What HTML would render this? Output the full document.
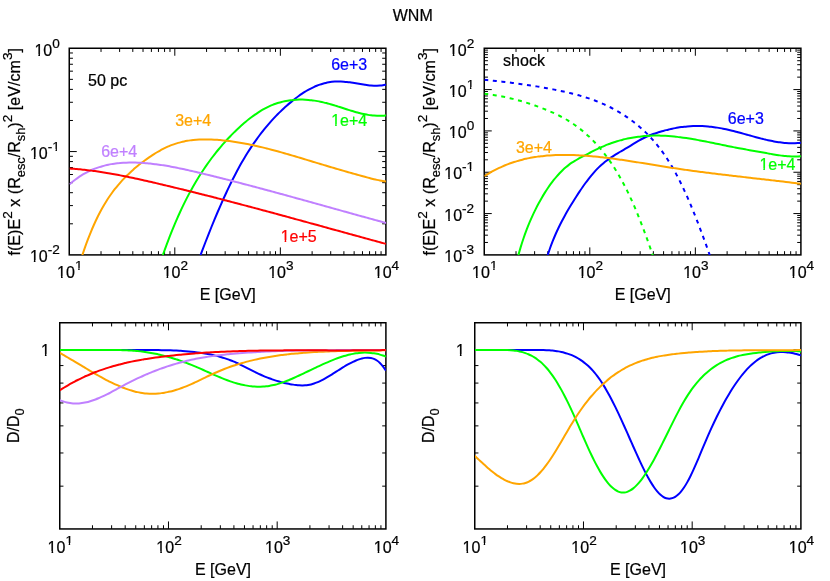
<!DOCTYPE html>
<html><head><meta charset="utf-8"><title>WNM</title>
<style>html,body{margin:0;padding:0;background:#fff;}svg{display:block;will-change:transform;transform:translateZ(0);}text{stroke-width:0.22px;}</style></head>
<body>
<svg width="830" height="581" viewBox="0 0 830 581" font-family='"Liberation Sans", sans-serif' font-size="16" fill="#000">
<rect width="830" height="581" fill="#fff"/>
<text x="412.75" y="21.4" text-anchor="middle" stroke="#000">WNM</text>
<clipPath id="ca"><rect x="69.50" y="48.25" width="316.55" height="206.75"/></clipPath>
<path d="M101.02,254.90 v-3.70 M101.02,48.25 v3.70 M119.61,254.90 v-3.70 M119.61,48.25 v3.70 M132.80,254.90 v-3.70 M132.80,48.25 v3.70 M143.03,254.90 v-3.70 M143.03,48.25 v3.70 M151.38,254.90 v-3.70 M151.38,48.25 v3.70 M158.45,254.90 v-3.70 M158.45,48.25 v3.70 M164.57,254.90 v-3.70 M164.57,48.25 v3.70 M169.97,254.90 v-3.70 M169.97,48.25 v3.70 M174.80,254.90 v-7.50 M174.80,48.25 v7.50 M206.57,254.90 v-3.70 M206.57,48.25 v3.70 M225.16,254.90 v-3.70 M225.16,48.25 v3.70 M238.35,254.90 v-3.70 M238.35,48.25 v3.70 M248.58,254.90 v-3.70 M248.58,48.25 v3.70 M256.93,254.90 v-3.70 M256.93,48.25 v3.70 M264.00,254.90 v-3.70 M264.00,48.25 v3.70 M270.12,254.90 v-3.70 M270.12,48.25 v3.70 M275.52,254.90 v-3.70 M275.52,48.25 v3.70 M280.35,254.90 v-7.50 M280.35,48.25 v7.50 M312.12,254.90 v-3.70 M312.12,48.25 v3.70 M330.71,254.90 v-3.70 M330.71,48.25 v3.70 M343.90,254.90 v-3.70 M343.90,48.25 v3.70 M354.13,254.90 v-3.70 M354.13,48.25 v3.70 M362.48,254.90 v-3.70 M362.48,48.25 v3.70 M369.55,254.90 v-3.70 M369.55,48.25 v3.70 M375.67,254.90 v-3.70 M375.67,48.25 v3.70 M381.07,254.90 v-3.70 M381.07,48.25 v3.70 M69.25,223.80 h3.70 M385.90,223.80 h-3.70 M69.25,205.60 h3.70 M385.90,205.60 h-3.70 M69.25,192.69 h3.70 M385.90,192.69 h-3.70 M69.25,182.68 h3.70 M385.90,182.68 h-3.70 M69.25,174.50 h3.70 M385.90,174.50 h-3.70 M69.25,167.58 h3.70 M385.90,167.58 h-3.70 M69.25,161.59 h3.70 M385.90,161.59 h-3.70 M69.25,156.30 h3.70 M385.90,156.30 h-3.70 M69.25,151.57 h7.50 M385.90,151.57 h-7.50 M69.25,120.47 h3.70 M385.90,120.47 h-3.70 M69.25,102.28 h3.70 M385.90,102.28 h-3.70 M69.25,89.37 h3.70 M385.90,89.37 h-3.70 M69.25,79.35 h3.70 M385.90,79.35 h-3.70 M69.25,71.17 h3.70 M385.90,71.17 h-3.70 M69.25,64.26 h3.70 M385.90,64.26 h-3.70 M69.25,58.26 h3.70 M385.90,58.26 h-3.70 M69.25,52.98 h3.70 M385.90,52.98 h-3.70" stroke="#000" stroke-width="1" fill="none"/>
<rect x="69.25" y="48.25" width="316.65" height="206.65" fill="none" stroke="#000" stroke-width="1.5"/>
<g clip-path="url(#ca)" fill="none" stroke-width="2.0" stroke-linejoin="round">
<path d="M199.40,258.21 C199.90,256.87 201.41,252.81 202.41,250.15 C203.41,247.49 204.42,244.86 205.42,242.26 C206.42,239.66 207.43,237.08 208.43,234.54 C209.43,232.00 210.44,229.48 211.44,227.00 C212.44,224.52 213.45,222.07 214.45,219.65 C215.45,217.23 216.45,214.84 217.46,212.49 C218.46,210.13 219.46,207.81 220.47,205.53 C221.47,203.24 222.47,200.99 223.48,198.77 C224.48,196.55 225.48,194.37 226.49,192.22 C227.49,190.08 228.49,187.96 229.50,185.89 C230.50,183.82 231.50,181.78 232.51,179.79 C233.51,177.79 234.51,175.83 235.52,173.91 C236.52,171.99 237.52,170.11 238.53,168.27 C239.53,166.43 240.53,164.63 241.54,162.87 C242.54,161.11 243.54,159.40 244.55,157.72 C245.55,156.04 246.55,154.40 247.55,152.79 C248.56,151.19 249.56,149.62 250.56,148.09 C251.57,146.56 252.57,145.07 253.57,143.61 C254.58,142.15 255.58,140.72 256.58,139.33 C257.59,137.93 258.59,136.57 259.59,135.24 C260.60,133.91 261.60,132.61 262.60,131.34 C263.61,130.07 264.61,128.83 265.61,127.62 C266.62,126.41 267.62,125.23 268.62,124.07 C269.63,122.91 270.63,121.78 271.63,120.67 C272.64,119.57 273.64,118.49 274.64,117.43 C275.65,116.37 276.65,115.34 277.65,114.32 C278.65,113.31 279.66,112.32 280.66,111.35 C281.66,110.38 282.67,109.43 283.67,108.50 C284.67,107.57 285.68,106.65 286.68,105.76 C287.68,104.86 288.69,103.99 289.69,103.13 C290.69,102.28 291.70,101.45 292.70,100.63 C293.70,99.82 294.71,99.03 295.71,98.26 C296.71,97.49 297.72,96.74 298.72,96.02 C299.72,95.30 300.73,94.60 301.73,93.92 C302.73,93.25 303.74,92.60 304.74,91.97 C305.74,91.35 306.75,90.75 307.75,90.18 C308.75,89.60 309.75,89.06 310.76,88.54 C311.76,88.02 312.76,87.53 313.77,87.07 C314.77,86.61 315.77,86.17 316.78,85.77 C317.78,85.36 318.78,84.99 319.79,84.64 C320.79,84.29 321.79,83.97 322.80,83.68 C323.80,83.39 324.80,83.13 325.81,82.90 C326.81,82.66 327.81,82.46 328.82,82.28 C329.82,82.10 330.82,81.95 331.83,81.82 C332.83,81.70 333.83,81.60 334.84,81.53 C335.84,81.46 336.84,81.42 337.85,81.41 C338.85,81.39 339.85,81.41 340.85,81.44 C341.86,81.48 342.86,81.55 343.86,81.63 C344.87,81.71 345.87,81.81 346.87,81.93 C347.88,82.05 348.88,82.18 349.88,82.33 C350.89,82.47 351.89,82.63 352.89,82.79 C353.90,82.96 354.90,83.13 355.90,83.30 C356.91,83.47 357.91,83.65 358.91,83.82 C359.92,83.99 360.92,84.16 361.92,84.32 C362.93,84.49 363.93,84.65 364.93,84.79 C365.94,84.93 366.94,85.07 367.94,85.19 C368.95,85.30 369.95,85.41 370.95,85.49 C371.95,85.57 372.96,85.64 373.96,85.67 C374.96,85.71 375.97,85.73 376.97,85.71 C377.97,85.69 378.98,85.65 379.98,85.57 C380.98,85.49 381.99,85.38 382.99,85.23 C383.99,85.07 385.50,84.75 386.00,84.66" stroke="#0000ff"/>
<path d="M162.20,256.99 C162.70,255.59 164.19,251.31 165.18,248.56 C166.18,245.82 167.17,243.14 168.17,240.53 C169.16,237.91 170.16,235.36 171.15,232.87 C172.15,230.37 173.14,227.94 174.14,225.56 C175.13,223.18 176.13,220.87 177.12,218.60 C178.11,216.34 179.11,214.13 180.10,211.97 C181.10,209.81 182.09,207.71 183.09,205.65 C184.08,203.60 185.08,201.60 186.07,199.64 C187.07,197.68 188.06,195.77 189.06,193.90 C190.05,192.04 191.05,190.22 192.04,188.44 C193.03,186.66 194.03,184.93 195.02,183.23 C196.02,181.54 197.01,179.88 198.01,178.27 C199.00,176.65 200.00,175.07 200.99,173.52 C201.99,171.98 202.98,170.47 203.98,168.99 C204.97,167.51 205.97,166.07 206.96,164.65 C207.95,163.24 208.95,161.85 209.94,160.50 C210.94,159.14 211.93,157.81 212.93,156.51 C213.92,155.20 214.92,153.93 215.91,152.67 C216.91,151.42 217.90,150.20 218.90,148.99 C219.89,147.79 220.89,146.62 221.88,145.46 C222.87,144.31 223.87,143.18 224.86,142.07 C225.86,140.96 226.85,139.87 227.85,138.81 C228.84,137.74 229.84,136.70 230.83,135.67 C231.83,134.65 232.82,133.64 233.82,132.66 C234.81,131.67 235.81,130.71 236.80,129.76 C237.79,128.81 238.79,127.88 239.78,126.97 C240.78,126.06 241.77,125.17 242.77,124.29 C243.76,123.42 244.76,122.57 245.75,121.74 C246.75,120.91 247.74,120.10 248.74,119.31 C249.73,118.52 250.73,117.76 251.72,117.01 C252.71,116.27 253.71,115.54 254.70,114.85 C255.70,114.15 256.69,113.47 257.69,112.82 C258.68,112.17 259.68,111.54 260.67,110.94 C261.67,110.33 262.66,109.75 263.66,109.20 C264.65,108.65 265.65,108.12 266.64,107.62 C267.63,107.12 268.63,106.64 269.62,106.19 C270.62,105.74 271.61,105.31 272.61,104.91 C273.60,104.51 274.60,104.14 275.59,103.79 C276.59,103.43 277.58,103.11 278.58,102.80 C279.57,102.49 280.57,102.21 281.56,101.95 C282.55,101.69 283.55,101.46 284.54,101.24 C285.54,101.03 286.53,100.83 287.53,100.66 C288.52,100.49 289.52,100.34 290.51,100.21 C291.51,100.08 292.50,99.97 293.50,99.88 C294.49,99.79 295.49,99.71 296.48,99.66 C297.47,99.61 298.47,99.58 299.46,99.56 C300.46,99.55 301.45,99.55 302.45,99.57 C303.44,99.59 304.44,99.63 305.43,99.69 C306.43,99.74 307.42,99.81 308.42,99.90 C309.41,99.99 310.41,100.09 311.40,100.21 C312.39,100.33 313.39,100.47 314.38,100.62 C315.38,100.77 316.37,100.93 317.37,101.11 C318.36,101.29 319.36,101.48 320.35,101.69 C321.35,101.89 322.34,102.11 323.34,102.35 C324.33,102.58 325.33,102.82 326.32,103.08 C327.31,103.33 328.31,103.60 329.30,103.88 C330.30,104.16 331.29,104.45 332.29,104.74 C333.28,105.04 334.28,105.34 335.27,105.65 C336.27,105.96 337.26,106.27 338.26,106.59 C339.25,106.91 340.25,107.23 341.24,107.55 C342.23,107.87 343.23,108.19 344.22,108.51 C345.22,108.83 346.21,109.15 347.21,109.47 C348.20,109.79 349.20,110.10 350.19,110.41 C351.19,110.71 352.18,111.02 353.18,111.31 C354.17,111.60 355.17,111.89 356.16,112.17 C357.15,112.44 358.15,112.71 359.14,112.97 C360.14,113.22 361.13,113.47 362.13,113.69 C363.12,113.92 364.12,114.14 365.11,114.33 C366.11,114.53 367.10,114.71 368.10,114.87 C369.09,115.04 370.09,115.18 371.08,115.30 C372.07,115.42 373.07,115.53 374.06,115.61 C375.06,115.68 376.05,115.74 377.05,115.77 C378.04,115.80 379.04,115.81 380.03,115.79 C381.03,115.76 382.02,115.72 383.02,115.64 C384.01,115.56 385.50,115.36 386.00,115.31" stroke="#00ff00"/>
<path d="M81.80,256.75 C82.30,255.27 83.81,250.72 84.81,247.87 C85.81,245.02 86.82,242.28 87.82,239.65 C88.83,237.01 89.83,234.48 90.83,232.04 C91.84,229.60 92.84,227.26 93.84,225.01 C94.85,222.75 95.85,220.60 96.85,218.52 C97.86,216.44 98.86,214.45 99.87,212.54 C100.87,210.63 101.87,208.79 102.88,207.03 C103.88,205.27 104.88,203.58 105.89,201.96 C106.89,200.33 107.89,198.78 108.90,197.28 C109.90,195.78 110.91,194.35 111.91,192.97 C112.91,191.58 113.92,190.26 114.92,188.98 C115.92,187.70 116.93,186.47 117.93,185.28 C118.93,184.09 119.94,182.95 120.94,181.83 C121.95,180.72 122.95,179.65 123.95,178.61 C124.96,177.56 125.96,176.55 126.96,175.56 C127.97,174.57 128.97,173.61 129.97,172.67 C130.98,171.73 131.98,170.82 132.99,169.93 C133.99,169.03 134.99,168.17 136.00,167.32 C137.00,166.47 138.00,165.64 139.01,164.84 C140.01,164.03 141.01,163.24 142.02,162.48 C143.02,161.71 144.03,160.96 145.03,160.23 C146.03,159.50 147.04,158.79 148.04,158.09 C149.04,157.39 150.05,156.71 151.05,156.05 C152.05,155.38 153.06,154.73 154.06,154.10 C155.07,153.47 156.07,152.85 157.07,152.25 C158.08,151.66 159.08,151.08 160.08,150.52 C161.09,149.96 162.09,149.43 163.09,148.91 C164.10,148.39 165.10,147.90 166.10,147.43 C167.11,146.96 168.11,146.51 169.12,146.09 C170.12,145.67 171.12,145.27 172.13,144.89 C173.13,144.52 174.13,144.16 175.14,143.83 C176.14,143.50 177.14,143.19 178.15,142.90 C179.15,142.61 180.16,142.35 181.16,142.10 C182.16,141.85 183.17,141.62 184.17,141.41 C185.17,141.20 186.18,141.01 187.18,140.84 C188.18,140.66 189.19,140.51 190.19,140.37 C191.20,140.23 192.20,140.11 193.20,140.00 C194.21,139.89 195.21,139.80 196.21,139.73 C197.22,139.65 198.22,139.59 199.22,139.54 C200.23,139.49 201.23,139.45 202.24,139.43 C203.24,139.40 204.24,139.39 205.25,139.39 C206.25,139.39 207.25,139.41 208.26,139.43 C209.26,139.45 210.26,139.48 211.27,139.52 C212.27,139.56 213.28,139.61 214.28,139.67 C215.28,139.73 216.29,139.80 217.29,139.87 C218.29,139.95 219.30,140.03 220.30,140.12 C221.30,140.20 222.31,140.30 223.31,140.40 C224.32,140.51 225.32,140.62 226.32,140.73 C227.33,140.85 228.33,140.97 229.33,141.10 C230.34,141.23 231.34,141.37 232.34,141.51 C233.35,141.65 234.35,141.80 235.36,141.95 C236.36,142.11 237.36,142.27 238.37,142.43 C239.37,142.60 240.37,142.77 241.38,142.95 C242.38,143.13 243.38,143.31 244.39,143.50 C245.39,143.68 246.40,143.88 247.40,144.08 C248.40,144.27 249.41,144.48 250.41,144.69 C251.41,144.89 252.42,145.11 253.42,145.32 C254.42,145.54 255.43,145.76 256.43,145.99 C257.44,146.22 258.44,146.45 259.44,146.68 C260.45,146.92 261.45,147.16 262.45,147.40 C263.46,147.64 264.46,147.89 265.46,148.14 C266.47,148.39 267.47,148.64 268.48,148.90 C269.48,149.16 270.48,149.42 271.49,149.68 C272.49,149.94 273.49,150.21 274.50,150.48 C275.50,150.75 276.50,151.02 277.51,151.30 C278.51,151.57 279.52,151.85 280.52,152.13 C281.52,152.41 282.53,152.69 283.53,152.98 C284.53,153.26 285.54,153.55 286.54,153.84 C287.54,154.13 288.55,154.42 289.55,154.71 C290.56,155.00 291.56,155.30 292.56,155.59 C293.57,155.89 294.57,156.18 295.57,156.48 C296.58,156.78 297.58,157.08 298.58,157.38 C299.59,157.68 300.59,157.98 301.60,158.29 C302.60,158.59 303.60,158.89 304.61,159.19 C305.61,159.50 306.61,159.80 307.62,160.11 C308.62,160.41 309.62,160.72 310.63,161.02 C311.63,161.32 312.63,161.63 313.64,161.93 C314.64,162.24 315.65,162.54 316.65,162.85 C317.65,163.15 318.66,163.45 319.66,163.76 C320.66,164.06 321.67,164.36 322.67,164.66 C323.67,164.96 324.68,165.26 325.68,165.56 C326.69,165.86 327.69,166.16 328.69,166.46 C329.70,166.76 330.70,167.05 331.70,167.35 C332.71,167.65 333.71,167.94 334.71,168.24 C335.72,168.53 336.72,168.83 337.73,169.12 C338.73,169.41 339.73,169.71 340.74,170.00 C341.74,170.29 342.74,170.58 343.75,170.87 C344.75,171.16 345.75,171.45 346.76,171.74 C347.76,172.03 348.77,172.31 349.77,172.60 C350.77,172.89 351.78,173.17 352.78,173.46 C353.78,173.74 354.79,174.03 355.79,174.31 C356.79,174.59 357.80,174.87 358.80,175.15 C359.81,175.43 360.81,175.71 361.81,175.99 C362.82,176.27 363.82,176.55 364.82,176.83 C365.83,177.10 366.83,177.37 367.83,177.64 C368.84,177.91 369.84,178.17 370.85,178.43 C371.85,178.68 372.85,178.93 373.86,179.17 C374.86,179.41 375.86,179.64 376.87,179.86 C377.87,180.08 378.87,180.29 379.88,180.48 C380.88,180.68 381.89,180.86 382.89,181.02 C383.89,181.19 385.40,181.40 385.90,181.47" stroke="#ffa500"/>
<path d="M69.50,184.30 C70.00,183.89 71.49,182.61 72.49,181.82 C73.48,181.02 74.48,180.26 75.47,179.52 C76.47,178.79 77.46,178.08 78.46,177.41 C79.45,176.73 80.45,176.09 81.44,175.47 C82.44,174.85 83.43,174.26 84.43,173.69 C85.42,173.13 86.42,172.59 87.42,172.08 C88.41,171.56 89.41,171.08 90.40,170.61 C91.40,170.15 92.39,169.71 93.39,169.30 C94.38,168.88 95.38,168.49 96.37,168.12 C97.37,167.75 98.36,167.41 99.36,167.08 C100.35,166.76 101.35,166.45 102.34,166.17 C103.34,165.88 104.33,165.62 105.33,165.37 C106.33,165.13 107.32,164.90 108.32,164.69 C109.31,164.48 110.31,164.29 111.30,164.12 C112.30,163.94 113.29,163.79 114.29,163.65 C115.28,163.50 116.28,163.38 117.27,163.27 C118.27,163.16 119.26,163.06 120.26,162.98 C121.25,162.89 122.25,162.82 123.25,162.76 C124.24,162.71 125.24,162.66 126.23,162.63 C127.23,162.59 128.22,162.57 129.22,162.56 C130.21,162.55 131.21,162.54 132.20,162.55 C133.20,162.56 134.19,162.57 135.19,162.60 C136.18,162.62 137.18,162.65 138.17,162.70 C139.17,162.74 140.17,162.79 141.16,162.85 C142.16,162.90 143.15,162.97 144.15,163.04 C145.14,163.12 146.14,163.20 147.13,163.29 C148.13,163.38 149.12,163.47 150.12,163.58 C151.11,163.68 152.11,163.79 153.10,163.91 C154.10,164.02 155.09,164.15 156.09,164.27 C157.08,164.40 158.08,164.54 159.08,164.68 C160.07,164.82 161.07,164.97 162.06,165.13 C163.06,165.28 164.05,165.44 165.05,165.60 C166.04,165.77 167.04,165.94 168.03,166.11 C169.03,166.28 170.02,166.46 171.02,166.65 C172.01,166.83 173.01,167.02 174.00,167.21 C175.00,167.40 176.00,167.60 176.99,167.80 C177.99,168.00 178.98,168.21 179.98,168.41 C180.97,168.62 181.97,168.83 182.96,169.05 C183.96,169.26 184.95,169.48 185.95,169.70 C186.94,169.92 187.94,170.14 188.93,170.37 C189.93,170.59 190.92,170.82 191.92,171.05 C192.92,171.28 193.91,171.51 194.91,171.74 C195.90,171.98 196.90,172.21 197.89,172.45 C198.89,172.69 199.88,172.92 200.88,173.16 C201.87,173.40 202.87,173.64 203.86,173.88 C204.86,174.12 205.85,174.36 206.85,174.61 C207.84,174.85 208.84,175.09 209.83,175.34 C210.83,175.58 211.83,175.83 212.82,176.07 C213.82,176.32 214.81,176.56 215.81,176.81 C216.80,177.06 217.80,177.31 218.79,177.56 C219.79,177.81 220.78,178.06 221.78,178.31 C222.77,178.56 223.77,178.81 224.76,179.06 C225.76,179.31 226.75,179.56 227.75,179.82 C228.75,180.07 229.74,180.32 230.74,180.58 C231.73,180.83 232.73,181.09 233.72,181.35 C234.72,181.60 235.71,181.86 236.71,182.12 C237.70,182.37 238.70,182.63 239.69,182.89 C240.69,183.15 241.68,183.41 242.68,183.67 C243.67,183.93 244.67,184.19 245.67,184.45 C246.66,184.71 247.66,184.97 248.65,185.24 C249.65,185.50 250.64,185.76 251.64,186.02 C252.63,186.29 253.63,186.55 254.62,186.82 C255.62,187.08 256.61,187.35 257.61,187.61 C258.60,187.88 259.60,188.14 260.59,188.41 C261.59,188.68 262.58,188.94 263.58,189.21 C264.58,189.48 265.57,189.75 266.57,190.01 C267.56,190.28 268.56,190.55 269.55,190.82 C270.55,191.09 271.54,191.36 272.54,191.63 C273.53,191.90 274.53,192.17 275.52,192.44 C276.52,192.71 277.51,192.98 278.51,193.25 C279.50,193.52 280.50,193.80 281.50,194.07 C282.49,194.34 283.49,194.61 284.48,194.89 C285.48,195.16 286.47,195.43 287.47,195.70 C288.46,195.98 289.46,196.25 290.45,196.53 C291.45,196.80 292.44,197.07 293.44,197.35 C294.43,197.62 295.43,197.90 296.42,198.17 C297.42,198.45 298.42,198.72 299.41,199.00 C300.41,199.27 301.40,199.55 302.40,199.82 C303.39,200.10 304.39,200.38 305.38,200.65 C306.38,200.93 307.37,201.20 308.37,201.48 C309.36,201.76 310.36,202.03 311.35,202.31 C312.35,202.59 313.34,202.86 314.34,203.14 C315.33,203.42 316.33,203.69 317.33,203.97 C318.32,204.25 319.32,204.52 320.31,204.80 C321.31,205.08 322.30,205.36 323.30,205.63 C324.29,205.91 325.29,206.19 326.28,206.46 C327.28,206.74 328.27,207.02 329.27,207.30 C330.26,207.57 331.26,207.85 332.25,208.13 C333.25,208.41 334.25,208.68 335.24,208.96 C336.24,209.24 337.23,209.51 338.23,209.79 C339.22,210.07 340.22,210.35 341.21,210.62 C342.21,210.90 343.20,211.18 344.20,211.45 C345.19,211.73 346.19,212.01 347.18,212.28 C348.18,212.56 349.17,212.84 350.17,213.11 C351.17,213.39 352.16,213.66 353.16,213.94 C354.15,214.22 355.15,214.49 356.14,214.77 C357.14,215.04 358.13,215.32 359.13,215.59 C360.12,215.87 361.12,216.14 362.11,216.42 C363.11,216.69 364.10,216.97 365.10,217.24 C366.09,217.51 367.09,217.79 368.08,218.06 C369.08,218.33 370.08,218.61 371.07,218.88 C372.07,219.15 373.06,219.43 374.06,219.70 C375.05,219.97 376.05,220.24 377.04,220.51 C378.04,220.79 379.03,221.06 380.03,221.33 C381.02,221.60 382.02,221.87 383.01,222.14 C384.01,222.41 385.50,222.81 386.00,222.95" stroke="#c080ff"/>
<path d="M69.50,168.55 C70.00,168.58 71.49,168.67 72.49,168.74 C73.48,168.81 74.48,168.89 75.47,168.97 C76.47,169.05 77.46,169.13 78.46,169.22 C79.45,169.31 80.45,169.40 81.44,169.50 C82.44,169.60 83.43,169.70 84.43,169.81 C85.42,169.92 86.42,170.03 87.42,170.15 C88.41,170.26 89.41,170.39 90.40,170.51 C91.40,170.64 92.39,170.76 93.39,170.90 C94.38,171.03 95.38,171.17 96.37,171.31 C97.37,171.45 98.36,171.60 99.36,171.74 C100.35,171.89 101.35,172.05 102.34,172.20 C103.34,172.36 104.33,172.52 105.33,172.68 C106.33,172.84 107.32,173.01 108.32,173.18 C109.31,173.35 110.31,173.52 111.30,173.70 C112.30,173.87 113.29,174.05 114.29,174.23 C115.28,174.42 116.28,174.60 117.27,174.79 C118.27,174.98 119.26,175.17 120.26,175.36 C121.25,175.55 122.25,175.75 123.25,175.95 C124.24,176.14 125.24,176.34 126.23,176.55 C127.23,176.75 128.22,176.95 129.22,177.16 C130.21,177.37 131.21,177.58 132.20,177.79 C133.20,178.00 134.19,178.21 135.19,178.43 C136.18,178.64 137.18,178.86 138.17,179.08 C139.17,179.30 140.17,179.52 141.16,179.74 C142.16,179.96 143.15,180.18 144.15,180.41 C145.14,180.63 146.14,180.86 147.13,181.08 C148.13,181.31 149.12,181.54 150.12,181.77 C151.11,181.99 152.11,182.22 153.10,182.46 C154.10,182.69 155.09,182.92 156.09,183.15 C157.08,183.38 158.08,183.62 159.08,183.85 C160.07,184.08 161.07,184.32 162.06,184.55 C163.06,184.79 164.05,185.02 165.05,185.26 C166.04,185.50 167.04,185.73 168.03,185.97 C169.03,186.21 170.02,186.45 171.02,186.69 C172.01,186.93 173.01,187.17 174.00,187.41 C175.00,187.65 176.00,187.89 176.99,188.13 C177.99,188.37 178.98,188.61 179.98,188.86 C180.97,189.10 181.97,189.34 182.96,189.59 C183.96,189.83 184.95,190.08 185.95,190.32 C186.94,190.57 187.94,190.81 188.93,191.06 C189.93,191.31 190.92,191.55 191.92,191.80 C192.92,192.05 193.91,192.30 194.91,192.54 C195.90,192.79 196.90,193.04 197.89,193.29 C198.89,193.54 199.88,193.79 200.88,194.04 C201.87,194.29 202.87,194.55 203.86,194.80 C204.86,195.05 205.85,195.30 206.85,195.55 C207.84,195.81 208.84,196.06 209.83,196.31 C210.83,196.57 211.83,196.82 212.82,197.08 C213.82,197.33 214.81,197.59 215.81,197.84 C216.80,198.10 217.80,198.36 218.79,198.61 C219.79,198.87 220.78,199.13 221.78,199.38 C222.77,199.64 223.77,199.90 224.76,200.16 C225.76,200.42 226.75,200.67 227.75,200.93 C228.75,201.19 229.74,201.45 230.74,201.71 C231.73,201.97 232.73,202.23 233.72,202.49 C234.72,202.76 235.71,203.02 236.71,203.28 C237.70,203.54 238.70,203.80 239.69,204.07 C240.69,204.33 241.68,204.59 242.68,204.85 C243.67,205.12 244.67,205.38 245.67,205.64 C246.66,205.91 247.66,206.17 248.65,206.44 C249.65,206.70 250.64,206.97 251.64,207.23 C252.63,207.50 253.63,207.76 254.62,208.03 C255.62,208.29 256.61,208.56 257.61,208.83 C258.60,209.09 259.60,209.36 260.59,209.63 C261.59,209.89 262.58,210.16 263.58,210.43 C264.58,210.70 265.57,210.96 266.57,211.23 C267.56,211.50 268.56,211.77 269.55,212.04 C270.55,212.31 271.54,212.58 272.54,212.84 C273.53,213.11 274.53,213.38 275.52,213.65 C276.52,213.92 277.51,214.19 278.51,214.46 C279.50,214.73 280.50,215.00 281.50,215.27 C282.49,215.54 283.49,215.81 284.48,216.08 C285.48,216.36 286.47,216.63 287.47,216.90 C288.46,217.17 289.46,217.44 290.45,217.71 C291.45,217.98 292.44,218.26 293.44,218.53 C294.43,218.80 295.43,219.07 296.42,219.34 C297.42,219.62 298.42,219.89 299.41,220.16 C300.41,220.43 301.40,220.71 302.40,220.98 C303.39,221.25 304.39,221.52 305.38,221.80 C306.38,222.07 307.37,222.34 308.37,222.62 C309.36,222.89 310.36,223.16 311.35,223.44 C312.35,223.71 313.34,223.98 314.34,224.26 C315.33,224.53 316.33,224.80 317.33,225.08 C318.32,225.35 319.32,225.62 320.31,225.90 C321.31,226.17 322.30,226.45 323.30,226.72 C324.29,226.99 325.29,227.27 326.28,227.54 C327.28,227.81 328.27,228.09 329.27,228.36 C330.26,228.64 331.26,228.91 332.25,229.18 C333.25,229.46 334.25,229.73 335.24,230.01 C336.24,230.28 337.23,230.55 338.23,230.83 C339.22,231.10 340.22,231.37 341.21,231.65 C342.21,231.92 343.20,232.20 344.20,232.47 C345.19,232.74 346.19,233.02 347.18,233.29 C348.18,233.56 349.17,233.84 350.17,234.11 C351.17,234.39 352.16,234.66 353.16,234.93 C354.15,235.21 355.15,235.48 356.14,235.75 C357.14,236.02 358.13,236.30 359.13,236.57 C360.12,236.84 361.12,237.12 362.11,237.39 C363.11,237.66 364.10,237.93 365.10,238.21 C366.09,238.48 367.09,238.75 368.08,239.02 C369.08,239.30 370.08,239.57 371.07,239.84 C372.07,240.11 373.06,240.38 374.06,240.66 C375.05,240.93 376.05,241.20 377.04,241.47 C378.04,241.74 379.03,242.01 380.03,242.28 C381.02,242.55 382.02,242.82 383.01,243.09 C384.01,243.36 385.50,243.77 386.00,243.91" stroke="#ff0000"/>
</g>
<text x="69.80" y="278.00" text-anchor="middle" stroke="#000">10<tspan dy="-8" font-size="13.6">1</tspan></text>
<text x="175.35" y="278.00" text-anchor="middle" stroke="#000">10<tspan dy="-8" font-size="13.6">2</tspan></text>
<text x="280.90" y="278.00" text-anchor="middle" stroke="#000">10<tspan dy="-8" font-size="13.6">3</tspan></text>
<text x="386.45" y="278.00" text-anchor="middle" stroke="#000">10<tspan dy="-8" font-size="13.6">4</tspan></text>
<text x="227.77" y="300.00" text-anchor="middle" stroke="#000">E [GeV]</text>
<text x="59.80" y="55.60" text-anchor="end" stroke="#000">10<tspan dy="-8" font-size="13.6">0</tspan></text>
<text x="59.80" y="158.92" text-anchor="end" stroke="#000">10<tspan dy="-8" font-size="13.6">-1</tspan></text>
<text x="59.80" y="262.25" text-anchor="end" stroke="#000">10<tspan dy="-8" font-size="13.6">-2</tspan></text>
<text transform="translate(20,151.75) rotate(-90)" text-anchor="middle" font-size="16.12" stroke="#000">f(E)E<tspan dy="-8" font-size="13.6">2</tspan><tspan dy="8"> x (R</tspan><tspan dy="4.8" font-size="12.8">esc</tspan><tspan dy="-4.8">/R</tspan><tspan dy="4.8" font-size="12.8">sh</tspan><tspan dy="-4.8">)</tspan><tspan dy="-8" font-size="13.6">2</tspan><tspan dy="8"> [eV/cm</tspan><tspan dy="-8" font-size="13.6">3</tspan><tspan dy="8">]</tspan></text>
<text x="88" y="86" stroke="#000">50 pc</text>
<text x="331.2" y="70" fill="#0000ff" stroke="#0000ff">6e+3</text>
<text x="331.2" y="126" fill="#00ff00" stroke="#00ff00">1e+4</text>
<text x="175.2" y="126" fill="#ffa500" stroke="#ffa500">3e+4</text>
<text x="101.2" y="157" fill="#c080ff" stroke="#c080ff">6e+4</text>
<text x="280.7" y="242" fill="#ff0000" stroke="#ff0000">1e+5</text>
<clipPath id="cb"><rect x="484.50" y="48.25" width="316.55" height="206.75"/></clipPath>
<path d="M516.02,254.90 v-3.70 M516.02,48.25 v3.70 M534.61,254.90 v-3.70 M534.61,48.25 v3.70 M547.80,254.90 v-3.70 M547.80,48.25 v3.70 M558.03,254.90 v-3.70 M558.03,48.25 v3.70 M566.38,254.90 v-3.70 M566.38,48.25 v3.70 M573.45,254.90 v-3.70 M573.45,48.25 v3.70 M579.57,254.90 v-3.70 M579.57,48.25 v3.70 M584.97,254.90 v-3.70 M584.97,48.25 v3.70 M589.80,254.90 v-7.50 M589.80,48.25 v7.50 M621.57,254.90 v-3.70 M621.57,48.25 v3.70 M640.16,254.90 v-3.70 M640.16,48.25 v3.70 M653.35,254.90 v-3.70 M653.35,48.25 v3.70 M663.58,254.90 v-3.70 M663.58,48.25 v3.70 M671.93,254.90 v-3.70 M671.93,48.25 v3.70 M679.00,254.90 v-3.70 M679.00,48.25 v3.70 M685.12,254.90 v-3.70 M685.12,48.25 v3.70 M690.52,254.90 v-3.70 M690.52,48.25 v3.70 M695.35,254.90 v-7.50 M695.35,48.25 v7.50 M727.12,254.90 v-3.70 M727.12,48.25 v3.70 M745.71,254.90 v-3.70 M745.71,48.25 v3.70 M758.90,254.90 v-3.70 M758.90,48.25 v3.70 M769.13,254.90 v-3.70 M769.13,48.25 v3.70 M777.48,254.90 v-3.70 M777.48,48.25 v3.70 M784.55,254.90 v-3.70 M784.55,48.25 v3.70 M790.67,254.90 v-3.70 M790.67,48.25 v3.70 M796.07,254.90 v-3.70 M796.07,48.25 v3.70 M484.25,242.46 h3.70 M800.90,242.46 h-3.70 M484.25,235.18 h3.70 M800.90,235.18 h-3.70 M484.25,230.02 h3.70 M800.90,230.02 h-3.70 M484.25,226.01 h3.70 M800.90,226.01 h-3.70 M484.25,222.74 h3.70 M800.90,222.74 h-3.70 M484.25,219.97 h3.70 M800.90,219.97 h-3.70 M484.25,217.58 h3.70 M800.90,217.58 h-3.70 M484.25,215.46 h3.70 M800.90,215.46 h-3.70 M484.25,213.57 h7.50 M800.90,213.57 h-7.50 M484.25,201.13 h3.70 M800.90,201.13 h-3.70 M484.25,193.85 h3.70 M800.90,193.85 h-3.70 M484.25,188.69 h3.70 M800.90,188.69 h-3.70 M484.25,184.68 h3.70 M800.90,184.68 h-3.70 M484.25,181.41 h3.70 M800.90,181.41 h-3.70 M484.25,178.64 h3.70 M800.90,178.64 h-3.70 M484.25,176.25 h3.70 M800.90,176.25 h-3.70 M484.25,174.13 h3.70 M800.90,174.13 h-3.70 M484.25,172.24 h7.50 M800.90,172.24 h-7.50 M484.25,159.80 h3.70 M800.90,159.80 h-3.70 M484.25,152.52 h3.70 M800.90,152.52 h-3.70 M484.25,147.36 h3.70 M800.90,147.36 h-3.70 M484.25,143.35 h3.70 M800.90,143.35 h-3.70 M484.25,140.08 h3.70 M800.90,140.08 h-3.70 M484.25,137.31 h3.70 M800.90,137.31 h-3.70 M484.25,134.92 h3.70 M800.90,134.92 h-3.70 M484.25,132.80 h3.70 M800.90,132.80 h-3.70 M484.25,130.91 h7.50 M800.90,130.91 h-7.50 M484.25,118.47 h3.70 M800.90,118.47 h-3.70 M484.25,111.19 h3.70 M800.90,111.19 h-3.70 M484.25,106.03 h3.70 M800.90,106.03 h-3.70 M484.25,102.02 h3.70 M800.90,102.02 h-3.70 M484.25,98.75 h3.70 M800.90,98.75 h-3.70 M484.25,95.98 h3.70 M800.90,95.98 h-3.70 M484.25,93.59 h3.70 M800.90,93.59 h-3.70 M484.25,91.47 h3.70 M800.90,91.47 h-3.70 M484.25,89.58 h7.50 M800.90,89.58 h-7.50 M484.25,77.14 h3.70 M800.90,77.14 h-3.70 M484.25,69.86 h3.70 M800.90,69.86 h-3.70 M484.25,64.70 h3.70 M800.90,64.70 h-3.70 M484.25,60.69 h3.70 M800.90,60.69 h-3.70 M484.25,57.42 h3.70 M800.90,57.42 h-3.70 M484.25,54.65 h3.70 M800.90,54.65 h-3.70 M484.25,52.26 h3.70 M800.90,52.26 h-3.70 M484.25,50.14 h3.70 M800.90,50.14 h-3.70" stroke="#000" stroke-width="1" fill="none"/>
<rect x="484.25" y="48.25" width="316.65" height="206.65" fill="none" stroke="#000" stroke-width="1.5"/>
<g clip-path="url(#cb)" fill="none" stroke-width="2.0" stroke-linejoin="round">
<path d="M484.25,79.81 C484.75,79.86 486.24,80.00 487.24,80.10 C488.24,80.20 489.23,80.30 490.23,80.40 C491.22,80.50 492.22,80.60 493.22,80.71 C494.21,80.81 495.21,80.92 496.21,81.02 C497.20,81.13 498.20,81.24 499.19,81.35 C500.19,81.46 501.19,81.57 502.18,81.68 C503.18,81.80 504.18,81.91 505.17,82.03 C506.17,82.14 507.16,82.26 508.16,82.38 C509.16,82.50 510.15,82.62 511.15,82.75 C512.15,82.87 513.14,83.00 514.14,83.12 C515.13,83.25 516.13,83.38 517.13,83.51 C518.12,83.65 519.12,83.78 520.12,83.92 C521.11,84.05 522.11,84.19 523.10,84.33 C524.10,84.47 525.10,84.62 526.09,84.76 C527.09,84.91 528.09,85.06 529.08,85.21 C530.08,85.36 531.07,85.51 532.07,85.67 C533.07,85.82 534.06,85.98 535.06,86.14 C536.06,86.30 537.05,86.47 538.05,86.63 C539.04,86.80 540.04,86.97 541.04,87.14 C542.03,87.31 543.03,87.49 544.03,87.67 C545.02,87.85 546.02,88.03 547.02,88.21 C548.01,88.40 549.01,88.58 550.00,88.77 C551.00,88.96 552.00,89.16 552.99,89.36 C553.99,89.55 554.99,89.75 555.98,89.96 C556.98,90.16 557.97,90.37 558.97,90.58 C559.97,90.79 560.96,91.00 561.96,91.22 C562.96,91.44 563.95,91.66 564.95,91.88 C565.94,92.11 566.94,92.34 567.94,92.57 C568.93,92.81 569.93,93.04 570.93,93.29 C571.92,93.53 572.92,93.78 573.91,94.04 C574.91,94.29 575.91,94.55 576.90,94.82 C577.90,95.09 578.90,95.36 579.89,95.65 C580.89,95.93 581.88,96.22 582.88,96.52 C583.88,96.81 584.87,97.12 585.87,97.43 C586.87,97.75 587.86,98.07 588.86,98.40 C589.85,98.74 590.85,99.08 591.85,99.43 C592.84,99.78 593.84,100.15 594.84,100.52 C595.83,100.89 596.83,101.28 597.83,101.67 C598.82,102.07 599.82,102.47 600.81,102.89 C601.81,103.31 602.81,103.74 603.80,104.19 C604.80,104.63 605.80,105.09 606.79,105.56 C607.79,106.03 608.78,106.51 609.78,107.01 C610.78,107.51 611.77,108.02 612.77,108.55 C613.77,109.08 614.76,109.62 615.76,110.18 C616.75,110.74 617.75,111.31 618.75,111.90 C619.74,112.49 620.74,113.09 621.74,113.72 C622.73,114.34 623.73,114.98 624.72,115.64 C625.72,116.29 626.72,116.97 627.71,117.66 C628.71,118.35 629.71,119.07 630.70,119.80 C631.70,120.53 632.69,121.28 633.69,122.04 C634.69,122.81 635.68,123.60 636.68,124.41 C637.68,125.22 638.67,126.05 639.67,126.91 C640.66,127.77 641.66,128.65 642.66,129.56 C643.65,130.47 644.65,131.40 645.65,132.37 C646.64,133.34 647.64,134.33 648.63,135.36 C649.63,136.39 650.63,137.45 651.62,138.55 C652.62,139.64 653.62,140.77 654.61,141.94 C655.61,143.11 656.61,144.31 657.60,145.56 C658.60,146.81 659.59,148.09 660.59,149.42 C661.59,150.75 662.58,152.12 663.58,153.54 C664.58,154.95 665.57,156.41 666.57,157.93 C667.56,159.44 668.56,160.99 669.56,162.60 C670.55,164.21 671.55,165.87 672.55,167.58 C673.54,169.29 674.54,171.06 675.53,172.88 C676.53,174.70 677.53,176.57 678.52,178.51 C679.52,180.44 680.52,182.44 681.51,184.49 C682.51,186.54 683.50,188.65 684.50,190.81 C685.50,192.98 686.49,195.20 687.49,197.46 C688.49,199.73 689.48,202.05 690.48,204.42 C691.47,206.78 692.47,209.20 693.47,211.65 C694.46,214.11 695.46,216.61 696.46,219.15 C697.45,221.69 698.45,224.27 699.44,226.89 C700.44,229.50 701.44,232.16 702.43,234.84 C703.43,237.53 704.43,240.25 705.42,243.00 C706.42,245.74 707.41,248.52 708.41,251.32 C709.41,254.13 710.90,258.39 711.40,259.81" stroke="#0000ff" stroke-dasharray="4 4.6"/>
<path d="M484.25,93.71 C484.75,93.77 486.24,93.94 487.23,94.07 C488.23,94.20 489.22,94.34 490.22,94.48 C491.21,94.62 492.21,94.77 493.20,94.93 C494.19,95.08 495.19,95.25 496.18,95.41 C497.18,95.58 498.17,95.76 499.17,95.94 C500.16,96.13 501.16,96.32 502.15,96.51 C503.14,96.71 504.14,96.91 505.13,97.12 C506.13,97.33 507.12,97.55 508.12,97.78 C509.11,98.00 510.11,98.23 511.10,98.47 C512.09,98.71 513.09,98.95 514.08,99.20 C515.08,99.46 516.07,99.72 517.07,99.98 C518.06,100.25 519.06,100.52 520.05,100.80 C521.04,101.08 522.04,101.37 523.03,101.66 C524.03,101.95 525.02,102.26 526.02,102.56 C527.01,102.87 528.01,103.19 529.00,103.51 C529.99,103.83 530.99,104.16 531.98,104.50 C532.98,104.83 533.97,105.18 534.97,105.53 C535.96,105.88 536.96,106.24 537.95,106.60 C538.94,106.97 539.94,107.34 540.93,107.72 C541.93,108.10 542.92,108.48 543.92,108.88 C544.91,109.27 545.91,109.67 546.90,110.08 C547.89,110.49 548.89,110.91 549.88,111.34 C550.88,111.76 551.87,112.20 552.87,112.65 C553.86,113.10 554.86,113.56 555.85,114.03 C556.84,114.51 557.84,114.99 558.83,115.49 C559.83,115.99 560.82,116.50 561.82,117.04 C562.81,117.57 563.81,118.11 564.80,118.67 C565.79,119.24 566.79,119.82 567.78,120.42 C568.78,121.02 569.77,121.63 570.77,122.27 C571.76,122.91 572.76,123.57 573.75,124.25 C574.74,124.93 575.74,125.63 576.73,126.35 C577.73,127.08 578.72,127.82 579.72,128.59 C580.71,129.37 581.71,130.16 582.70,130.99 C583.69,131.81 584.69,132.66 585.68,133.53 C586.68,134.41 587.67,135.31 588.67,136.24 C589.66,137.18 590.66,138.14 591.65,139.13 C592.64,140.12 593.64,141.14 594.63,142.20 C595.63,143.25 596.62,144.34 597.62,145.46 C598.61,146.58 599.61,147.73 600.60,148.92 C601.59,150.11 602.59,151.33 603.58,152.59 C604.58,153.85 605.57,155.15 606.57,156.48 C607.56,157.82 608.56,159.20 609.55,160.62 C610.54,162.04 611.54,163.50 612.53,165.01 C613.53,166.52 614.52,168.07 615.52,169.67 C616.51,171.27 617.51,172.92 618.50,174.62 C619.49,176.32 620.49,178.07 621.48,179.87 C622.48,181.67 623.47,183.52 624.47,185.44 C625.46,187.35 626.46,189.31 627.45,191.34 C628.44,193.36 629.44,195.44 630.43,197.59 C631.43,199.73 632.42,201.93 633.42,204.20 C634.41,206.47 635.41,208.80 636.40,211.19 C637.39,213.59 638.39,216.05 639.38,218.56 C640.38,221.07 641.37,223.64 642.37,226.26 C643.36,228.87 644.36,231.55 645.35,234.25 C646.34,236.96 647.34,239.71 648.33,242.49 C649.33,245.28 650.32,248.10 651.32,250.95 C652.31,253.79 653.80,258.13 654.30,259.57" stroke="#00ff00" stroke-dasharray="4 4.6"/>
<path d="M546.60,258.52 C547.10,257.02 548.59,252.36 549.59,249.52 C550.59,246.68 551.59,244.03 552.58,241.48 C553.58,238.94 554.58,236.56 555.58,234.27 C556.57,231.98 557.57,229.83 558.57,227.74 C559.56,225.65 560.56,223.68 561.56,221.75 C562.56,219.82 563.55,217.97 564.55,216.16 C565.55,214.35 566.55,212.60 567.54,210.87 C568.54,209.15 569.54,207.47 570.53,205.82 C571.53,204.16 572.53,202.53 573.53,200.92 C574.52,199.32 575.52,197.73 576.52,196.18 C577.51,194.63 578.51,193.10 579.51,191.60 C580.51,190.11 581.50,188.64 582.50,187.21 C583.50,185.78 584.50,184.38 585.49,183.02 C586.49,181.66 587.49,180.33 588.48,179.05 C589.48,177.77 590.48,176.52 591.48,175.32 C592.47,174.13 593.47,172.97 594.47,171.86 C595.47,170.75 596.46,169.69 597.46,168.67 C598.46,167.66 599.45,166.70 600.45,165.78 C601.45,164.86 602.45,163.99 603.44,163.16 C604.44,162.32 605.44,161.54 606.44,160.77 C607.43,160.01 608.43,159.29 609.43,158.59 C610.42,157.89 611.42,157.22 612.42,156.57 C613.42,155.92 614.41,155.29 615.41,154.67 C616.41,154.06 617.41,153.46 618.40,152.87 C619.40,152.27 620.40,151.69 621.39,151.11 C622.39,150.53 623.39,149.96 624.39,149.37 C625.38,148.79 626.38,148.21 627.38,147.61 C628.37,147.02 629.37,146.41 630.37,145.80 C631.37,145.19 632.36,144.57 633.36,143.96 C634.36,143.35 635.36,142.73 636.35,142.14 C637.35,141.54 638.35,140.95 639.34,140.39 C640.34,139.82 641.34,139.27 642.34,138.75 C643.33,138.24 644.33,137.75 645.33,137.28 C646.33,136.82 647.32,136.38 648.32,135.96 C649.32,135.54 650.31,135.15 651.31,134.77 C652.31,134.39 653.31,134.04 654.30,133.69 C655.30,133.35 656.30,133.02 657.30,132.71 C658.29,132.39 659.29,132.09 660.29,131.79 C661.28,131.50 662.28,131.21 663.28,130.94 C664.28,130.66 665.27,130.39 666.27,130.14 C667.27,129.88 668.27,129.64 669.26,129.40 C670.26,129.17 671.26,128.94 672.25,128.73 C673.25,128.51 674.25,128.31 675.25,128.12 C676.24,127.93 677.24,127.75 678.24,127.58 C679.23,127.41 680.23,127.26 681.23,127.11 C682.23,126.97 683.22,126.84 684.22,126.72 C685.22,126.60 686.22,126.49 687.21,126.40 C688.21,126.31 689.21,126.23 690.20,126.16 C691.20,126.09 692.20,126.04 693.20,126.00 C694.19,125.96 695.19,125.94 696.19,125.93 C697.19,125.92 698.18,125.92 699.18,125.94 C700.18,125.96 701.17,125.99 702.17,126.04 C703.17,126.08 704.17,126.14 705.16,126.21 C706.16,126.28 707.16,126.36 708.16,126.46 C709.15,126.55 710.15,126.66 711.15,126.78 C712.14,126.90 713.14,127.03 714.14,127.17 C715.14,127.31 716.13,127.46 717.13,127.62 C718.13,127.78 719.13,127.95 720.12,128.13 C721.12,128.31 722.12,128.50 723.11,128.70 C724.11,128.89 725.11,129.10 726.11,129.32 C727.10,129.53 728.10,129.75 729.10,129.98 C730.09,130.21 731.09,130.45 732.09,130.70 C733.09,130.94 734.08,131.19 735.08,131.45 C736.08,131.70 737.08,131.97 738.07,132.23 C739.07,132.50 740.07,132.77 741.06,133.04 C742.06,133.31 743.06,133.59 744.06,133.87 C745.05,134.15 746.05,134.43 747.05,134.71 C748.05,134.99 749.04,135.27 750.04,135.55 C751.04,135.82 752.03,136.10 753.03,136.38 C754.03,136.66 755.03,136.93 756.02,137.20 C757.02,137.47 758.02,137.74 759.02,138.00 C760.01,138.26 761.01,138.52 762.01,138.77 C763.00,139.02 764.00,139.27 765.00,139.51 C766.00,139.74 766.99,139.97 767.99,140.20 C768.99,140.42 769.99,140.63 770.98,140.83 C771.98,141.04 772.98,141.23 773.97,141.41 C774.97,141.60 775.97,141.77 776.97,141.93 C777.96,142.08 778.96,142.23 779.96,142.36 C780.95,142.49 781.95,142.61 782.95,142.72 C783.95,142.82 784.94,142.91 785.94,142.98 C786.94,143.05 787.94,143.11 788.93,143.14 C789.93,143.18 790.93,143.20 791.92,143.20 C792.92,143.20 793.92,143.19 794.92,143.15 C795.91,143.11 796.91,143.05 797.91,142.97 C798.91,142.89 800.40,142.72 800.90,142.67" stroke="#0000ff"/>
<path d="M517.60,257.86 C518.10,256.11 519.61,250.66 520.61,247.34 C521.62,244.03 522.62,240.94 523.63,237.99 C524.63,235.04 525.64,232.29 526.64,229.64 C527.65,227.00 528.65,224.53 529.66,222.14 C530.66,219.76 531.66,217.51 532.67,215.33 C533.67,213.16 534.68,211.10 535.68,209.09 C536.69,207.09 537.69,205.18 538.70,203.31 C539.70,201.45 540.71,199.65 541.71,197.91 C542.72,196.17 543.72,194.50 544.72,192.88 C545.73,191.26 546.73,189.71 547.74,188.21 C548.74,186.71 549.75,185.27 550.75,183.89 C551.76,182.51 552.76,181.19 553.77,179.92 C554.77,178.65 555.78,177.44 556.78,176.28 C557.78,175.12 558.79,174.01 559.79,172.96 C560.80,171.91 561.80,170.91 562.81,169.95 C563.81,169.00 564.82,168.10 565.82,167.25 C566.83,166.39 567.83,165.59 568.84,164.83 C569.84,164.07 570.84,163.36 571.85,162.68 C572.85,162.01 573.86,161.38 574.86,160.78 C575.87,160.17 576.87,159.60 577.88,159.05 C578.88,158.49 579.89,157.96 580.89,157.43 C581.90,156.91 582.90,156.39 583.90,155.87 C584.91,155.35 585.91,154.83 586.92,154.31 C587.92,153.79 588.93,153.26 589.93,152.74 C590.94,152.23 591.94,151.70 592.95,151.19 C593.95,150.68 594.95,150.18 595.96,149.68 C596.96,149.19 597.97,148.70 598.97,148.22 C599.98,147.75 600.98,147.29 601.99,146.85 C602.99,146.40 604.00,145.97 605.00,145.56 C606.01,145.14 607.01,144.74 608.01,144.35 C609.02,143.97 610.02,143.59 611.03,143.24 C612.03,142.88 613.04,142.53 614.04,142.20 C615.05,141.87 616.05,141.55 617.06,141.25 C618.06,140.95 619.07,140.66 620.07,140.38 C621.07,140.10 622.08,139.84 623.08,139.58 C624.09,139.33 625.09,139.09 626.10,138.87 C627.10,138.64 628.11,138.43 629.11,138.23 C630.12,138.03 631.12,137.84 632.13,137.66 C633.13,137.48 634.13,137.32 635.14,137.17 C636.14,137.01 637.15,136.87 638.15,136.74 C639.16,136.61 640.16,136.49 641.17,136.39 C642.17,136.28 643.18,136.18 644.18,136.10 C645.19,136.01 646.19,135.94 647.19,135.88 C648.20,135.81 649.20,135.76 650.21,135.72 C651.21,135.68 652.22,135.64 653.22,135.62 C654.23,135.60 655.23,135.59 656.24,135.59 C657.24,135.59 658.25,135.59 659.25,135.61 C660.25,135.63 661.26,135.66 662.26,135.69 C663.27,135.73 664.27,135.78 665.28,135.83 C666.28,135.88 667.29,135.95 668.29,136.02 C669.30,136.09 670.30,136.17 671.31,136.26 C672.31,136.34 673.31,136.44 674.32,136.54 C675.32,136.64 676.33,136.75 677.33,136.87 C678.34,136.98 679.34,137.11 680.35,137.24 C681.35,137.36 682.36,137.50 683.36,137.64 C684.37,137.78 685.37,137.93 686.37,138.08 C687.38,138.23 688.38,138.39 689.39,138.55 C690.39,138.71 691.40,138.88 692.40,139.05 C693.41,139.22 694.41,139.39 695.42,139.57 C696.42,139.75 697.43,139.93 698.43,140.12 C699.43,140.31 700.44,140.50 701.44,140.69 C702.45,140.88 703.45,141.07 704.46,141.27 C705.46,141.47 706.47,141.67 707.47,141.87 C708.48,142.07 709.48,142.27 710.49,142.48 C711.49,142.68 712.49,142.88 713.50,143.09 C714.50,143.30 715.51,143.50 716.51,143.71 C717.52,143.92 718.52,144.13 719.53,144.33 C720.53,144.54 721.54,144.75 722.54,144.96 C723.55,145.16 724.55,145.37 725.55,145.57 C726.56,145.78 727.56,145.98 728.57,146.18 C729.57,146.39 730.58,146.59 731.58,146.78 C732.59,146.98 733.59,147.18 734.60,147.37 C735.60,147.57 736.60,147.76 737.61,147.95 C738.61,148.14 739.62,148.33 740.62,148.51 C741.63,148.70 742.63,148.89 743.64,149.07 C744.64,149.25 745.65,149.44 746.65,149.62 C747.66,149.80 748.66,149.98 749.66,150.16 C750.67,150.34 751.67,150.52 752.68,150.70 C753.68,150.87 754.69,151.05 755.69,151.23 C756.70,151.41 757.70,151.58 758.71,151.76 C759.71,151.94 760.72,152.11 761.72,152.29 C762.72,152.47 763.73,152.64 764.73,152.82 C765.74,153.00 766.74,153.18 767.75,153.36 C768.75,153.53 769.76,153.71 770.76,153.89 C771.77,154.07 772.77,154.25 773.78,154.42 C774.78,154.59 775.78,154.76 776.79,154.92 C777.79,155.08 778.80,155.24 779.80,155.38 C780.81,155.53 781.81,155.67 782.82,155.79 C783.82,155.91 784.83,156.03 785.83,156.12 C786.84,156.22 787.84,156.31 788.84,156.37 C789.85,156.44 790.85,156.49 791.86,156.52 C792.86,156.55 793.87,156.56 794.87,156.55 C795.88,156.53 796.88,156.50 797.89,156.44 C798.89,156.38 800.40,156.23 800.90,156.19" stroke="#00ff00"/>
<path d="M484.25,176.11 C484.75,175.80 486.24,174.86 487.24,174.27 C488.23,173.67 489.23,173.09 490.22,172.53 C491.22,171.97 492.22,171.42 493.21,170.89 C494.21,170.36 495.20,169.85 496.20,169.35 C497.19,168.86 498.19,168.38 499.19,167.91 C500.18,167.44 501.18,166.99 502.17,166.56 C503.17,166.12 504.17,165.70 505.16,165.29 C506.16,164.89 507.15,164.50 508.15,164.12 C509.14,163.74 510.14,163.38 511.14,163.03 C512.13,162.68 513.13,162.34 514.12,162.02 C515.12,161.70 516.11,161.39 517.11,161.09 C518.11,160.79 519.10,160.51 520.10,160.24 C521.09,159.97 522.09,159.71 523.08,159.46 C524.08,159.21 525.08,158.98 526.07,158.75 C527.07,158.53 528.06,158.32 529.06,158.12 C530.05,157.92 531.05,157.73 532.05,157.55 C533.04,157.37 534.04,157.20 535.03,157.04 C536.03,156.88 537.03,156.74 538.02,156.60 C539.02,156.46 540.01,156.33 541.01,156.21 C542.00,156.09 543.00,155.98 544.00,155.88 C544.99,155.78 545.99,155.69 546.98,155.61 C547.98,155.52 548.97,155.45 549.97,155.38 C550.97,155.31 551.96,155.26 552.96,155.21 C553.95,155.15 554.95,155.11 555.94,155.08 C556.94,155.04 557.94,155.01 558.93,154.99 C559.93,154.97 560.92,154.95 561.92,154.94 C562.91,154.93 563.91,154.93 564.91,154.94 C565.90,154.94 566.90,154.95 567.89,154.97 C568.89,154.98 569.88,155.00 570.88,155.03 C571.88,155.05 572.87,155.08 573.87,155.12 C574.86,155.16 575.86,155.20 576.86,155.24 C577.85,155.29 578.85,155.34 579.84,155.39 C580.84,155.45 581.83,155.51 582.83,155.57 C583.83,155.63 584.82,155.70 585.82,155.78 C586.81,155.85 587.81,155.92 588.80,156.01 C589.80,156.09 590.80,156.17 591.79,156.26 C592.79,156.35 593.78,156.44 594.78,156.54 C595.77,156.63 596.77,156.73 597.77,156.83 C598.76,156.94 599.76,157.04 600.75,157.15 C601.75,157.26 602.74,157.37 603.74,157.49 C604.74,157.60 605.73,157.72 606.73,157.84 C607.72,157.97 608.72,158.09 609.72,158.22 C610.71,158.34 611.71,158.47 612.70,158.61 C613.70,158.74 614.69,158.87 615.69,159.01 C616.69,159.15 617.68,159.28 618.68,159.43 C619.67,159.57 620.67,159.71 621.66,159.85 C622.66,160.00 623.66,160.15 624.65,160.29 C625.65,160.44 626.64,160.59 627.64,160.74 C628.63,160.90 629.63,161.05 630.63,161.20 C631.62,161.36 632.62,161.51 633.61,161.67 C634.61,161.83 635.60,161.99 636.60,162.14 C637.60,162.30 638.59,162.46 639.59,162.62 C640.58,162.78 641.58,162.94 642.58,163.10 C643.57,163.27 644.57,163.43 645.56,163.59 C646.56,163.75 647.55,163.92 648.55,164.08 C649.55,164.24 650.54,164.40 651.54,164.57 C652.53,164.73 653.53,164.89 654.52,165.05 C655.52,165.22 656.52,165.38 657.51,165.54 C658.51,165.70 659.50,165.86 660.50,166.02 C661.49,166.19 662.49,166.35 663.49,166.50 C664.48,166.66 665.48,166.82 666.47,166.98 C667.47,167.14 668.46,167.29 669.46,167.45 C670.46,167.60 671.45,167.76 672.45,167.91 C673.44,168.06 674.44,168.21 675.43,168.36 C676.43,168.51 677.43,168.66 678.42,168.81 C679.42,168.95 680.41,169.10 681.41,169.24 C682.41,169.39 683.40,169.53 684.40,169.67 C685.39,169.81 686.39,169.95 687.38,170.09 C688.38,170.23 689.38,170.37 690.37,170.51 C691.37,170.64 692.36,170.78 693.36,170.91 C694.35,171.05 695.35,171.18 696.35,171.31 C697.34,171.45 698.34,171.58 699.33,171.71 C700.33,171.84 701.32,171.97 702.32,172.10 C703.32,172.23 704.31,172.35 705.31,172.48 C706.30,172.61 707.30,172.73 708.29,172.86 C709.29,172.99 710.29,173.11 711.28,173.23 C712.28,173.36 713.27,173.48 714.27,173.60 C715.27,173.72 716.26,173.85 717.26,173.97 C718.25,174.09 719.25,174.21 720.24,174.33 C721.24,174.45 722.24,174.57 723.23,174.69 C724.23,174.80 725.22,174.92 726.22,175.04 C727.21,175.16 728.21,175.28 729.21,175.39 C730.20,175.51 731.20,175.63 732.19,175.74 C733.19,175.86 734.18,175.97 735.18,176.09 C736.18,176.20 737.17,176.32 738.17,176.43 C739.16,176.55 740.16,176.66 741.15,176.78 C742.15,176.89 743.15,177.01 744.14,177.12 C745.14,177.23 746.13,177.35 747.13,177.46 C748.12,177.57 749.12,177.69 750.12,177.80 C751.11,177.92 752.11,178.03 753.10,178.14 C754.10,178.26 755.10,178.37 756.09,178.48 C757.09,178.60 758.08,178.71 759.08,178.82 C760.07,178.94 761.07,179.05 762.07,179.17 C763.06,179.28 764.06,179.39 765.05,179.51 C766.05,179.62 767.04,179.74 768.04,179.85 C769.04,179.97 770.03,180.08 771.03,180.20 C772.02,180.32 773.02,180.43 774.01,180.55 C775.01,180.66 776.01,180.78 777.00,180.90 C778.00,181.02 778.99,181.13 779.99,181.25 C780.98,181.37 781.98,181.49 782.98,181.61 C783.97,181.73 784.97,181.85 785.96,181.97 C786.96,182.09 787.96,182.21 788.95,182.33 C789.95,182.45 790.94,182.58 791.94,182.70 C792.93,182.82 793.93,182.95 794.93,183.07 C795.92,183.20 796.92,183.32 797.91,183.45 C798.91,183.57 800.40,183.76 800.90,183.83" stroke="#ffa500"/>
</g>
<text x="484.80" y="278.00" text-anchor="middle" stroke="#000">10<tspan dy="-8" font-size="13.6">1</tspan></text>
<text x="590.35" y="278.00" text-anchor="middle" stroke="#000">10<tspan dy="-8" font-size="13.6">2</tspan></text>
<text x="695.90" y="278.00" text-anchor="middle" stroke="#000">10<tspan dy="-8" font-size="13.6">3</tspan></text>
<text x="801.45" y="278.00" text-anchor="middle" stroke="#000">10<tspan dy="-8" font-size="13.6">4</tspan></text>
<text x="642.78" y="300.00" text-anchor="middle" stroke="#000">E [GeV]</text>
<text x="474.20" y="56.00" text-anchor="end" stroke="#000">10<tspan dy="-8" font-size="13.6">2</tspan></text>
<text x="474.20" y="97.00" text-anchor="end" stroke="#000">10<tspan dy="-8" font-size="13.6">1</tspan></text>
<text x="474.20" y="138.00" text-anchor="end" stroke="#000">10<tspan dy="-8" font-size="13.6">0</tspan></text>
<text x="474.20" y="179.00" text-anchor="end" stroke="#000">10<tspan dy="-8" font-size="13.6">-1</tspan></text>
<text x="474.20" y="221.00" text-anchor="end" stroke="#000">10<tspan dy="-8" font-size="13.6">-2</tspan></text>
<text x="474.20" y="262.00" text-anchor="end" stroke="#000">10<tspan dy="-8" font-size="13.6">-3</tspan></text>
<text transform="translate(435.2,151.75) rotate(-90)" text-anchor="middle" font-size="16.12" stroke="#000">f(E)E<tspan dy="-8" font-size="13.6">2</tspan><tspan dy="8"> x (R</tspan><tspan dy="4.8" font-size="12.8">esc</tspan><tspan dy="-4.8">/R</tspan><tspan dy="4.8" font-size="12.8">sh</tspan><tspan dy="-4.8">)</tspan><tspan dy="-8" font-size="13.6">2</tspan><tspan dy="8"> [eV/cm</tspan><tspan dy="-8" font-size="13.6">3</tspan><tspan dy="8">]</tspan></text>
<text x="503.1" y="66" stroke="#000">shock</text>
<text x="727.8" y="124" fill="#0000ff" stroke="#0000ff">6e+3</text>
<text x="759.4" y="170" fill="#00ff00" stroke="#00ff00">1e+4</text>
<text x="515.9" y="153" fill="#ffa500" stroke="#ffa500">3e+4</text>
<clipPath id="cc"><rect x="60.00" y="322.75" width="326.05" height="206.30"/></clipPath>
<path d="M92.48,528.95 v-3.70 M92.48,322.75 v3.70 M111.62,528.95 v-3.70 M111.62,322.75 v3.70 M125.20,528.95 v-3.70 M125.20,322.75 v3.70 M135.74,528.95 v-3.70 M135.74,322.75 v3.70 M144.35,528.95 v-3.70 M144.35,322.75 v3.70 M151.63,528.95 v-3.70 M151.63,322.75 v3.70 M157.93,528.95 v-3.70 M157.93,322.75 v3.70 M163.49,528.95 v-3.70 M163.49,322.75 v3.70 M168.47,528.95 v-7.50 M168.47,322.75 v7.50 M201.19,528.95 v-3.70 M201.19,322.75 v3.70 M220.34,528.95 v-3.70 M220.34,322.75 v3.70 M233.92,528.95 v-3.70 M233.92,322.75 v3.70 M244.46,528.95 v-3.70 M244.46,322.75 v3.70 M253.06,528.95 v-3.70 M253.06,322.75 v3.70 M260.34,528.95 v-3.70 M260.34,322.75 v3.70 M266.65,528.95 v-3.70 M266.65,322.75 v3.70 M272.21,528.95 v-3.70 M272.21,322.75 v3.70 M277.18,528.95 v-7.50 M277.18,322.75 v7.50 M309.91,528.95 v-3.70 M309.91,322.75 v3.70 M329.05,528.95 v-3.70 M329.05,322.75 v3.70 M342.64,528.95 v-3.70 M342.64,322.75 v3.70 M353.17,528.95 v-3.70 M353.17,322.75 v3.70 M361.78,528.95 v-3.70 M361.78,322.75 v3.70 M369.06,528.95 v-3.70 M369.06,322.75 v3.70 M375.36,528.95 v-3.70 M375.36,322.75 v3.70 M380.93,528.95 v-3.70 M380.93,322.75 v3.70 M59.75,486.17 h3.70 M385.90,486.17 h-3.70 M59.75,452.98 h3.70 M385.90,452.98 h-3.70 M59.75,425.87 h3.70 M385.90,425.87 h-3.70 M59.75,402.94 h3.70 M385.90,402.94 h-3.70 M59.75,383.09 h3.70 M385.90,383.09 h-3.70 M59.75,365.57 h3.70 M385.90,365.57 h-3.70 M59.75,349.90 h7.50 M385.90,349.90 h-7.50" stroke="#000" stroke-width="1" fill="none"/>
<rect x="59.75" y="322.75" width="326.15" height="206.20" fill="none" stroke="#000" stroke-width="1.5"/>
<g clip-path="url(#cc)" fill="none" stroke-width="2.0" stroke-linejoin="round">
<path d="M59.75,349.90 C60.25,349.90 61.74,349.90 62.74,349.90 C63.74,349.90 64.74,349.90 65.73,349.90 C66.73,349.90 67.73,349.90 68.73,349.90 C69.72,349.90 70.72,349.90 71.72,349.90 C72.72,349.90 73.71,349.90 74.71,349.90 C75.71,349.90 76.71,349.90 77.70,349.90 C78.70,349.90 79.70,349.90 80.70,349.90 C81.69,349.90 82.69,349.90 83.69,349.90 C84.69,349.90 85.68,349.90 86.68,349.90 C87.68,349.90 88.67,349.90 89.67,349.90 C90.67,349.90 91.67,349.90 92.66,349.90 C93.66,349.90 94.66,349.90 95.66,349.90 C96.65,349.90 97.65,349.90 98.65,349.90 C99.65,349.90 100.64,349.90 101.64,349.90 C102.64,349.90 103.64,349.90 104.63,349.90 C105.63,349.90 106.63,349.90 107.63,349.90 C108.62,349.90 109.62,349.90 110.62,349.90 C111.61,349.90 112.61,349.90 113.61,349.90 C114.61,349.90 115.60,349.90 116.60,349.90 C117.60,349.90 118.60,349.90 119.59,349.90 C120.59,349.90 121.59,349.90 122.59,349.90 C123.58,349.90 124.58,349.90 125.58,349.90 C126.58,349.90 127.57,349.90 128.57,349.90 C129.57,349.90 130.57,349.91 131.56,349.91 C132.56,349.91 133.56,349.91 134.56,349.91 C135.55,349.92 136.55,349.92 137.55,349.92 C138.54,349.93 139.54,349.93 140.54,349.93 C141.54,349.94 142.53,349.94 143.53,349.95 C144.53,349.95 145.53,349.96 146.52,349.97 C147.52,349.97 148.52,349.98 149.52,349.99 C150.51,349.99 151.51,350.00 152.51,350.01 C153.51,350.02 154.50,350.03 155.50,350.04 C156.50,350.05 157.50,350.06 158.49,350.08 C159.49,350.09 160.49,350.11 161.48,350.13 C162.48,350.15 163.48,350.17 164.48,350.19 C165.47,350.21 166.47,350.24 167.47,350.27 C168.47,350.30 169.46,350.33 170.46,350.36 C171.46,350.40 172.46,350.44 173.45,350.48 C174.45,350.52 175.45,350.57 176.45,350.62 C177.44,350.67 178.44,350.72 179.44,350.78 C180.44,350.84 181.43,350.90 182.43,350.97 C183.43,351.04 184.43,351.11 185.42,351.19 C186.42,351.27 187.42,351.35 188.41,351.44 C189.41,351.53 190.41,351.63 191.41,351.73 C192.40,351.83 193.40,351.94 194.40,352.05 C195.40,352.17 196.39,352.29 197.39,352.42 C198.39,352.55 199.39,352.68 200.38,352.82 C201.38,352.97 202.38,353.12 203.38,353.27 C204.37,353.43 205.37,353.60 206.37,353.77 C207.37,353.95 208.36,354.13 209.36,354.32 C210.36,354.51 211.35,354.71 212.35,354.93 C213.35,355.14 214.35,355.37 215.34,355.60 C216.34,355.84 217.34,356.09 218.34,356.35 C219.33,356.61 220.33,356.89 221.33,357.18 C222.33,357.47 223.32,357.77 224.32,358.09 C225.32,358.41 226.32,358.75 227.31,359.11 C228.31,359.46 229.31,359.83 230.31,360.22 C231.30,360.61 232.30,361.02 233.30,361.44 C234.30,361.87 235.29,362.31 236.29,362.76 C237.29,363.21 238.28,363.68 239.28,364.16 C240.28,364.63 241.28,365.12 242.27,365.61 C243.27,366.11 244.27,366.61 245.27,367.11 C246.26,367.61 247.26,368.12 248.26,368.63 C249.26,369.13 250.25,369.64 251.25,370.14 C252.25,370.65 253.25,371.15 254.24,371.64 C255.24,372.13 256.24,372.62 257.24,373.10 C258.23,373.58 259.23,374.05 260.23,374.51 C261.22,374.96 262.22,375.41 263.22,375.84 C264.22,376.27 265.21,376.69 266.21,377.09 C267.21,377.50 268.21,377.89 269.20,378.27 C270.20,378.65 271.20,379.02 272.20,379.37 C273.19,379.72 274.19,380.06 275.19,380.38 C276.19,380.70 277.18,381.01 278.18,381.31 C279.18,381.60 280.18,381.89 281.17,382.15 C282.17,382.42 283.17,382.67 284.17,382.91 C285.16,383.14 286.16,383.36 287.16,383.57 C288.15,383.78 289.15,383.97 290.15,384.14 C291.15,384.32 292.14,384.48 293.14,384.62 C294.14,384.77 295.14,384.89 296.13,385.00 C297.13,385.11 298.13,385.21 299.13,385.28 C300.12,385.35 301.12,385.40 302.12,385.41 C303.12,385.42 304.11,385.41 305.11,385.34 C306.11,385.28 307.11,385.18 308.10,385.03 C309.10,384.87 310.10,384.67 311.09,384.42 C312.09,384.17 313.09,383.87 314.09,383.54 C315.08,383.20 316.08,382.82 317.08,382.41 C318.08,382.01 319.07,381.56 320.07,381.08 C321.07,380.61 322.07,380.10 323.06,379.57 C324.06,379.05 325.06,378.49 326.06,377.92 C327.05,377.35 328.05,376.75 329.05,376.15 C330.05,375.55 331.04,374.93 332.04,374.30 C333.04,373.68 334.04,373.04 335.03,372.40 C336.03,371.77 337.03,371.13 338.02,370.49 C339.02,369.86 340.02,369.22 341.02,368.59 C342.01,367.97 343.01,367.35 344.01,366.74 C345.01,366.14 346.00,365.55 347.00,364.97 C348.00,364.40 349.00,363.85 349.99,363.32 C350.99,362.79 351.99,362.28 352.99,361.81 C353.98,361.33 354.98,360.88 355.98,360.47 C356.98,360.06 357.97,359.68 358.97,359.34 C359.97,359.01 360.96,358.70 361.96,358.46 C362.96,358.21 363.96,358.00 364.95,357.87 C365.95,357.74 366.95,357.66 367.95,357.68 C368.94,357.71 369.94,357.79 370.94,358.00 C371.94,358.20 372.93,358.49 373.93,358.91 C374.93,359.34 375.93,359.86 376.92,360.53 C377.92,361.21 378.92,362.00 379.92,362.96 C380.91,363.92 381.91,365.02 382.91,366.30 C383.91,367.58 385.40,369.93 385.90,370.65" stroke="#0000ff"/>
<path d="M59.75,349.90 C60.25,349.90 61.74,349.90 62.74,349.90 C63.74,349.90 64.74,349.90 65.73,349.90 C66.73,349.90 67.73,349.90 68.73,349.90 C69.72,349.90 70.72,349.90 71.72,349.90 C72.72,349.90 73.71,349.90 74.71,349.90 C75.71,349.90 76.71,349.90 77.70,349.90 C78.70,349.90 79.70,349.90 80.70,349.90 C81.69,349.90 82.69,349.90 83.69,349.90 C84.69,349.90 85.68,349.90 86.68,349.90 C87.68,349.90 88.67,349.90 89.67,349.90 C90.67,349.90 91.67,349.90 92.66,349.90 C93.66,349.90 94.66,349.90 95.66,349.90 C96.65,349.90 97.65,349.90 98.65,349.90 C99.65,349.90 100.64,349.90 101.64,349.90 C102.64,349.90 103.64,349.90 104.63,349.90 C105.63,349.90 106.63,349.91 107.63,349.91 C108.62,349.91 109.62,349.92 110.62,349.92 C111.61,349.93 112.61,349.94 113.61,349.95 C114.61,349.96 115.60,349.97 116.60,349.99 C117.60,350.01 118.60,350.03 119.59,350.05 C120.59,350.08 121.59,350.10 122.59,350.14 C123.58,350.17 124.58,350.21 125.58,350.25 C126.58,350.29 127.57,350.34 128.57,350.39 C129.57,350.45 130.57,350.51 131.56,350.57 C132.56,350.64 133.56,350.71 134.56,350.80 C135.55,350.88 136.55,350.96 137.55,351.06 C138.54,351.16 139.54,351.26 140.54,351.37 C141.54,351.49 142.53,351.61 143.53,351.74 C144.53,351.87 145.53,352.01 146.52,352.16 C147.52,352.32 148.52,352.48 149.52,352.65 C150.51,352.82 151.51,353.00 152.51,353.18 C153.51,353.37 154.50,353.57 155.50,353.78 C156.50,353.99 157.50,354.20 158.49,354.43 C159.49,354.65 160.49,354.89 161.48,355.13 C162.48,355.37 163.48,355.63 164.48,355.89 C165.47,356.15 166.47,356.42 167.47,356.70 C168.47,356.97 169.46,357.26 170.46,357.55 C171.46,357.85 172.46,358.15 173.45,358.46 C174.45,358.77 175.45,359.09 176.45,359.42 C177.44,359.75 178.44,360.08 179.44,360.43 C180.44,360.77 181.43,361.12 182.43,361.48 C183.43,361.84 184.43,362.20 185.42,362.58 C186.42,362.95 187.42,363.33 188.41,363.72 C189.41,364.11 190.41,364.50 191.41,364.90 C192.40,365.31 193.40,365.71 194.40,366.13 C195.40,366.55 196.39,366.97 197.39,367.40 C198.39,367.83 199.39,368.26 200.38,368.70 C201.38,369.14 202.38,369.58 203.38,370.03 C204.37,370.47 205.37,370.92 206.37,371.36 C207.37,371.81 208.36,372.26 209.36,372.70 C210.36,373.15 211.35,373.60 212.35,374.04 C213.35,374.48 214.35,374.92 215.34,375.36 C216.34,375.79 217.34,376.22 218.34,376.65 C219.33,377.07 220.33,377.49 221.33,377.90 C222.33,378.31 223.32,378.71 224.32,379.11 C225.32,379.50 226.32,379.88 227.31,380.26 C228.31,380.63 229.31,380.99 230.31,381.34 C231.30,381.68 232.30,382.02 233.30,382.34 C234.30,382.66 235.29,382.97 236.29,383.25 C237.29,383.54 238.28,383.82 239.28,384.07 C240.28,384.32 241.28,384.56 242.27,384.78 C243.27,385.00 244.27,385.20 245.27,385.39 C246.26,385.57 247.26,385.74 248.26,385.88 C249.26,386.03 250.25,386.15 251.25,386.26 C252.25,386.37 253.25,386.45 254.24,386.52 C255.24,386.59 256.24,386.63 257.24,386.66 C258.23,386.68 259.23,386.68 260.23,386.67 C261.22,386.65 262.22,386.61 263.22,386.54 C264.22,386.48 265.21,386.39 266.21,386.28 C267.21,386.17 268.21,386.04 269.20,385.89 C270.20,385.73 271.20,385.55 272.20,385.34 C273.19,385.14 274.19,384.91 275.19,384.66 C276.19,384.40 277.18,384.13 278.18,383.84 C279.18,383.54 280.18,383.23 281.17,382.90 C282.17,382.56 283.17,382.21 284.17,381.85 C285.16,381.48 286.16,381.10 287.16,380.71 C288.15,380.32 289.15,379.91 290.15,379.49 C291.15,379.08 292.14,378.65 293.14,378.21 C294.14,377.77 295.14,377.33 296.13,376.88 C297.13,376.42 298.13,375.97 299.13,375.50 C300.12,375.04 301.12,374.57 302.12,374.10 C303.12,373.63 304.11,373.16 305.11,372.68 C306.11,372.20 307.11,371.72 308.10,371.25 C309.10,370.77 310.10,370.29 311.09,369.81 C312.09,369.33 313.09,368.85 314.09,368.37 C315.08,367.90 316.08,367.42 317.08,366.95 C318.08,366.48 319.07,366.01 320.07,365.55 C321.07,365.09 322.07,364.63 323.06,364.18 C324.06,363.72 325.06,363.28 326.06,362.84 C327.05,362.40 328.05,361.97 329.05,361.55 C330.05,361.13 331.04,360.72 332.04,360.31 C333.04,359.91 334.04,359.52 335.03,359.14 C336.03,358.76 337.03,358.39 338.02,358.03 C339.02,357.68 340.02,357.34 341.02,357.01 C342.01,356.68 343.01,356.37 344.01,356.07 C345.01,355.77 346.00,355.49 347.00,355.23 C348.00,354.96 349.00,354.71 349.99,354.49 C350.99,354.26 351.99,354.05 352.99,353.86 C353.98,353.67 354.98,353.50 355.98,353.35 C356.98,353.20 357.97,353.07 358.97,352.97 C359.97,352.86 360.96,352.78 361.96,352.72 C362.96,352.67 363.96,352.63 364.95,352.62 C365.95,352.62 366.95,352.63 367.95,352.68 C368.94,352.72 369.94,352.79 370.94,352.89 C371.94,352.99 372.93,353.12 373.93,353.28 C374.93,353.44 375.93,353.62 376.92,353.84 C377.92,354.06 378.92,354.31 379.92,354.59 C380.91,354.87 381.91,355.18 382.91,355.53 C383.91,355.88 385.40,356.49 385.90,356.68" stroke="#00ff00"/>
<path d="M59.75,352.94 C60.25,353.22 61.74,354.04 62.74,354.60 C63.74,355.16 64.74,355.73 65.73,356.30 C66.73,356.87 67.73,357.45 68.73,358.03 C69.72,358.62 70.72,359.20 71.72,359.79 C72.72,360.38 73.71,360.98 74.71,361.57 C75.71,362.17 76.71,362.77 77.70,363.36 C78.70,363.96 79.70,364.56 80.70,365.16 C81.69,365.76 82.69,366.37 83.69,366.96 C84.69,367.56 85.68,368.16 86.68,368.76 C87.68,369.36 88.67,369.95 89.67,370.54 C90.67,371.13 91.67,371.72 92.66,372.30 C93.66,372.89 94.66,373.47 95.66,374.04 C96.65,374.62 97.65,375.19 98.65,375.75 C99.65,376.31 100.64,376.87 101.64,377.42 C102.64,377.97 103.64,378.51 104.63,379.04 C105.63,379.57 106.63,380.10 107.63,380.61 C108.62,381.13 109.62,381.63 110.62,382.13 C111.61,382.62 112.61,383.11 113.61,383.58 C114.61,384.05 115.60,384.51 116.60,384.96 C117.60,385.41 118.60,385.84 119.59,386.26 C120.59,386.69 121.59,387.09 122.59,387.49 C123.58,387.88 124.58,388.26 125.58,388.62 C126.58,388.98 127.57,389.32 128.57,389.65 C129.57,389.98 130.57,390.29 131.56,390.58 C132.56,390.88 133.56,391.15 134.56,391.41 C135.55,391.66 136.55,391.90 137.55,392.11 C138.54,392.33 139.54,392.52 140.54,392.70 C141.54,392.87 142.53,393.03 143.53,393.15 C144.53,393.28 145.53,393.39 146.52,393.48 C147.52,393.56 148.52,393.62 149.52,393.66 C150.51,393.70 151.51,393.72 152.51,393.72 C153.51,393.71 154.50,393.69 155.50,393.64 C156.50,393.60 157.50,393.53 158.49,393.44 C159.49,393.35 160.49,393.25 161.48,393.12 C162.48,392.99 163.48,392.85 164.48,392.68 C165.47,392.52 166.47,392.33 167.47,392.13 C168.47,391.93 169.46,391.70 170.46,391.47 C171.46,391.23 172.46,390.97 173.45,390.70 C174.45,390.42 175.45,390.13 176.45,389.82 C177.44,389.52 178.44,389.19 179.44,388.85 C180.44,388.51 181.43,388.16 182.43,387.79 C183.43,387.42 184.43,387.03 185.42,386.63 C186.42,386.23 187.42,385.81 188.41,385.39 C189.41,384.96 190.41,384.52 191.41,384.08 C192.40,383.63 193.40,383.17 194.40,382.71 C195.40,382.24 196.39,381.77 197.39,381.29 C198.39,380.82 199.39,380.33 200.38,379.85 C201.38,379.37 202.38,378.88 203.38,378.40 C204.37,377.92 205.37,377.43 206.37,376.95 C207.37,376.47 208.36,375.99 209.36,375.52 C210.36,375.04 211.35,374.57 212.35,374.11 C213.35,373.65 214.35,373.20 215.34,372.76 C216.34,372.31 217.34,371.88 218.34,371.46 C219.33,371.03 220.33,370.62 221.33,370.21 C222.33,369.81 223.32,369.41 224.32,369.02 C225.32,368.64 226.32,368.26 227.31,367.89 C228.31,367.52 229.31,367.16 230.31,366.81 C231.30,366.46 232.30,366.12 233.30,365.78 C234.30,365.45 235.29,365.12 236.29,364.80 C237.29,364.49 238.28,364.18 239.28,363.87 C240.28,363.57 241.28,363.28 242.27,362.99 C243.27,362.70 244.27,362.42 245.27,362.15 C246.26,361.88 247.26,361.61 248.26,361.36 C249.26,361.10 250.25,360.85 251.25,360.61 C252.25,360.36 253.25,360.13 254.24,359.89 C255.24,359.66 256.24,359.44 257.24,359.22 C258.23,359.01 259.23,358.80 260.23,358.59 C261.22,358.39 262.22,358.19 263.22,357.99 C264.22,357.80 265.21,357.62 266.21,357.43 C267.21,357.25 268.21,357.08 269.20,356.91 C270.20,356.74 271.20,356.57 272.20,356.41 C273.19,356.25 274.19,356.10 275.19,355.95 C276.19,355.80 277.18,355.65 278.18,355.51 C279.18,355.37 280.18,355.24 281.17,355.10 C282.17,354.97 283.17,354.85 284.17,354.72 C285.16,354.60 286.16,354.48 287.16,354.37 C288.15,354.25 289.15,354.14 290.15,354.04 C291.15,353.93 292.14,353.82 293.14,353.72 C294.14,353.62 295.14,353.53 296.13,353.44 C297.13,353.34 298.13,353.25 299.13,353.17 C300.12,353.08 301.12,353.00 302.12,352.92 C303.12,352.84 304.11,352.76 305.11,352.68 C306.11,352.61 307.11,352.54 308.10,352.47 C309.10,352.40 310.10,352.33 311.09,352.27 C312.09,352.21 313.09,352.15 314.09,352.09 C315.08,352.03 316.08,351.98 317.08,351.92 C318.08,351.87 319.07,351.82 320.07,351.77 C321.07,351.72 322.07,351.68 323.06,351.63 C324.06,351.59 325.06,351.55 326.06,351.51 C327.05,351.47 328.05,351.43 329.05,351.39 C330.05,351.35 331.04,351.32 332.04,351.29 C333.04,351.25 334.04,351.22 335.03,351.19 C336.03,351.16 337.03,351.14 338.02,351.11 C339.02,351.08 340.02,351.06 341.02,351.03 C342.01,351.01 343.01,350.98 344.01,350.96 C345.01,350.94 346.00,350.92 347.00,350.90 C348.00,350.88 349.00,350.86 349.99,350.84 C350.99,350.83 351.99,350.81 352.99,350.79 C353.98,350.78 354.98,350.76 355.98,350.75 C356.98,350.73 357.97,350.72 358.97,350.70 C359.97,350.69 360.96,350.67 361.96,350.66 C362.96,350.65 363.96,350.63 364.95,350.62 C365.95,350.61 366.95,350.59 367.95,350.58 C368.94,350.57 369.94,350.55 370.94,350.54 C371.94,350.53 372.93,350.51 373.93,350.50 C374.93,350.49 375.93,350.47 376.92,350.46 C377.92,350.44 378.92,350.43 379.92,350.41 C380.91,350.40 381.91,350.38 382.91,350.37 C383.91,350.35 385.40,350.32 385.90,350.31" stroke="#ffa500"/>
<path d="M59.50,399.92 C60.00,400.13 61.50,400.78 62.50,401.14 C63.49,401.50 64.49,401.81 65.49,402.09 C66.49,402.36 67.49,402.59 68.49,402.78 C69.48,402.96 70.48,403.11 71.48,403.22 C72.48,403.33 73.48,403.40 74.48,403.43 C75.48,403.47 76.47,403.46 77.47,403.43 C78.47,403.39 79.47,403.32 80.47,403.21 C81.47,403.11 82.46,402.97 83.46,402.80 C84.46,402.64 85.46,402.44 86.46,402.21 C87.46,401.98 88.46,401.73 89.45,401.45 C90.45,401.17 91.45,400.86 92.45,400.53 C93.45,400.20 94.45,399.84 95.44,399.46 C96.44,399.09 97.44,398.69 98.44,398.27 C99.44,397.85 100.44,397.41 101.44,396.96 C102.43,396.50 103.43,396.03 104.43,395.55 C105.43,395.07 106.43,394.57 107.43,394.06 C108.43,393.56 109.42,393.04 110.42,392.51 C111.42,391.99 112.42,391.45 113.42,390.92 C114.42,390.38 115.41,389.84 116.41,389.30 C117.41,388.76 118.41,388.21 119.41,387.67 C120.41,387.13 121.41,386.58 122.40,386.05 C123.40,385.51 124.40,384.98 125.40,384.45 C126.40,383.93 127.40,383.41 128.39,382.89 C129.39,382.38 130.39,381.88 131.39,381.38 C132.39,380.88 133.39,380.39 134.39,379.90 C135.38,379.42 136.38,378.94 137.38,378.47 C138.38,378.00 139.38,377.53 140.38,377.08 C141.37,376.62 142.37,376.17 143.37,375.73 C144.37,375.28 145.37,374.85 146.37,374.42 C147.37,373.99 148.36,373.56 149.36,373.15 C150.36,372.73 151.36,372.33 152.36,371.92 C153.36,371.52 154.35,371.13 155.35,370.74 C156.35,370.35 157.35,369.97 158.35,369.60 C159.35,369.22 160.35,368.86 161.34,368.50 C162.34,368.14 163.34,367.79 164.34,367.44 C165.34,367.09 166.34,366.76 167.33,366.42 C168.33,366.09 169.33,365.77 170.33,365.45 C171.33,365.13 172.33,364.82 173.33,364.52 C174.32,364.22 175.32,363.92 176.32,363.63 C177.32,363.34 178.32,363.06 179.32,362.79 C180.31,362.51 181.31,362.25 182.31,361.99 C183.31,361.72 184.31,361.47 185.31,361.23 C186.31,360.98 187.30,360.74 188.30,360.51 C189.30,360.28 190.30,360.05 191.30,359.83 C192.30,359.61 193.30,359.40 194.29,359.20 C195.29,358.99 196.29,358.79 197.29,358.60 C198.29,358.41 199.29,358.22 200.28,358.04 C201.28,357.86 202.28,357.68 203.28,357.51 C204.28,357.34 205.28,357.17 206.28,357.02 C207.27,356.86 208.27,356.70 209.27,356.55 C210.27,356.40 211.27,356.26 212.27,356.12 C213.26,355.98 214.26,355.84 215.26,355.71 C216.26,355.58 217.26,355.45 218.26,355.33 C219.26,355.21 220.25,355.09 221.25,354.98 C222.25,354.86 223.25,354.75 224.25,354.64 C225.25,354.54 226.24,354.43 227.24,354.33 C228.24,354.23 229.24,354.14 230.24,354.04 C231.24,353.95 232.24,353.86 233.23,353.77 C234.23,353.68 235.23,353.59 236.23,353.51 C237.23,353.43 238.23,353.35 239.22,353.27 C240.22,353.19 241.22,353.11 242.22,353.04 C243.22,352.96 244.22,352.89 245.22,352.82 C246.21,352.75 247.21,352.68 248.21,352.61 C249.21,352.54 250.21,352.48 251.21,352.41 C252.20,352.35 253.20,352.29 254.20,352.23 C255.20,352.17 256.20,352.11 257.20,352.05 C258.20,352.00 259.19,351.94 260.19,351.89 C261.19,351.84 262.19,351.78 263.19,351.73 C264.19,351.68 265.19,351.64 266.18,351.59 C267.18,351.54 268.18,351.50 269.18,351.45 C270.18,351.41 271.18,351.37 272.17,351.32 C273.17,351.28 274.17,351.24 275.17,351.21 C276.17,351.17 277.17,351.13 278.17,351.09 C279.16,351.06 280.16,351.02 281.16,350.99 C282.16,350.96 283.16,350.93 284.16,350.90 C285.15,350.87 286.15,350.84 287.15,350.81 C288.15,350.78 289.15,350.75 290.15,350.73 C291.15,350.70 292.14,350.68 293.14,350.65 C294.14,350.63 295.14,350.61 296.14,350.58 C297.14,350.56 298.13,350.54 299.13,350.52 C300.13,350.50 301.13,350.48 302.13,350.47 C303.13,350.45 304.13,350.43 305.12,350.42 C306.12,350.40 307.12,350.38 308.12,350.37 C309.12,350.35 310.12,350.34 311.11,350.33 C312.11,350.31 313.11,350.30 314.11,350.29 C315.11,350.28 316.11,350.27 317.11,350.26 C318.10,350.25 319.10,350.24 320.10,350.23 C321.10,350.22 322.10,350.21 323.10,350.20 C324.09,350.20 325.09,350.19 326.09,350.18 C327.09,350.17 328.09,350.17 329.09,350.16 C330.09,350.16 331.08,350.15 332.08,350.14 C333.08,350.14 334.08,350.13 335.08,350.13 C336.08,350.12 337.07,350.12 338.07,350.12 C339.07,350.11 340.07,350.11 341.07,350.10 C342.07,350.10 343.07,350.10 344.06,350.09 C345.06,350.09 346.06,350.09 347.06,350.08 C348.06,350.08 349.06,350.08 350.06,350.08 C351.05,350.07 352.05,350.07 353.05,350.07 C354.05,350.06 355.05,350.06 356.05,350.06 C357.04,350.06 358.04,350.05 359.04,350.05 C360.04,350.05 361.04,350.04 362.04,350.04 C363.04,350.04 364.03,350.03 365.03,350.03 C366.03,350.03 367.03,350.02 368.03,350.02 C369.03,350.01 370.02,350.01 371.02,350.00 C372.02,350.00 373.02,349.99 374.02,349.99 C375.02,349.98 376.02,349.98 377.01,349.97 C378.01,349.96 379.01,349.96 380.01,349.95 C381.01,349.94 382.01,349.93 383.00,349.93 C384.00,349.92 385.50,349.90 386.00,349.90" stroke="#c080ff"/>
<path d="M59.75,390.30 C60.25,389.99 61.74,389.03 62.74,388.41 C63.74,387.79 64.74,387.18 65.73,386.59 C66.73,385.99 67.73,385.41 68.73,384.84 C69.72,384.27 70.72,383.71 71.72,383.16 C72.72,382.61 73.71,382.08 74.71,381.55 C75.71,381.02 76.71,380.51 77.70,380.01 C78.70,379.50 79.70,379.01 80.70,378.53 C81.69,378.04 82.69,377.57 83.69,377.11 C84.69,376.65 85.68,376.20 86.68,375.76 C87.68,375.32 88.67,374.88 89.67,374.46 C90.67,374.04 91.67,373.63 92.66,373.23 C93.66,372.82 94.66,372.43 95.66,372.05 C96.65,371.66 97.65,371.29 98.65,370.92 C99.65,370.55 100.64,370.20 101.64,369.85 C102.64,369.50 103.64,369.16 104.63,368.83 C105.63,368.49 106.63,368.17 107.63,367.85 C108.62,367.54 109.62,367.23 110.62,366.93 C111.61,366.63 112.61,366.34 113.61,366.05 C114.61,365.76 115.60,365.49 116.60,365.22 C117.60,364.94 118.60,364.68 119.59,364.42 C120.59,364.17 121.59,363.91 122.59,363.67 C123.58,363.43 124.58,363.19 125.58,362.96 C126.58,362.73 127.57,362.50 128.57,362.28 C129.57,362.06 130.57,361.85 131.56,361.64 C132.56,361.43 133.56,361.23 134.56,361.03 C135.55,360.83 136.55,360.64 137.55,360.46 C138.54,360.27 139.54,360.09 140.54,359.91 C141.54,359.73 142.53,359.56 143.53,359.39 C144.53,359.23 145.53,359.06 146.52,358.90 C147.52,358.74 148.52,358.59 149.52,358.44 C150.51,358.29 151.51,358.14 152.51,357.99 C153.51,357.85 154.50,357.71 155.50,357.57 C156.50,357.43 157.50,357.30 158.49,357.17 C159.49,357.04 160.49,356.91 161.48,356.79 C162.48,356.66 163.48,356.54 164.48,356.42 C165.47,356.30 166.47,356.18 167.47,356.06 C168.47,355.95 169.46,355.83 170.46,355.72 C171.46,355.61 172.46,355.50 173.45,355.40 C174.45,355.29 175.45,355.19 176.45,355.08 C177.44,354.98 178.44,354.88 179.44,354.78 C180.44,354.69 181.43,354.59 182.43,354.50 C183.43,354.40 184.43,354.31 185.42,354.22 C186.42,354.13 187.42,354.04 188.41,353.96 C189.41,353.87 190.41,353.79 191.41,353.71 C192.40,353.63 193.40,353.55 194.40,353.47 C195.40,353.39 196.39,353.32 197.39,353.24 C198.39,353.17 199.39,353.09 200.38,353.02 C201.38,352.95 202.38,352.89 203.38,352.82 C204.37,352.75 205.37,352.69 206.37,352.62 C207.37,352.56 208.36,352.50 209.36,352.44 C210.36,352.38 211.35,352.32 212.35,352.26 C213.35,352.21 214.35,352.15 215.34,352.10 C216.34,352.04 217.34,351.99 218.34,351.94 C219.33,351.89 220.33,351.84 221.33,351.80 C222.33,351.75 223.32,351.70 224.32,351.66 C225.32,351.61 226.32,351.57 227.31,351.53 C228.31,351.49 229.31,351.45 230.31,351.41 C231.30,351.37 232.30,351.33 233.30,351.30 C234.30,351.26 235.29,351.22 236.29,351.19 C237.29,351.16 238.28,351.12 239.28,351.09 C240.28,351.06 241.28,351.03 242.27,351.00 C243.27,350.98 244.27,350.95 245.27,350.92 C246.26,350.90 247.26,350.87 248.26,350.85 C249.26,350.82 250.25,350.80 251.25,350.78 C252.25,350.75 253.25,350.73 254.24,350.71 C255.24,350.69 256.24,350.67 257.24,350.66 C258.23,350.64 259.23,350.62 260.23,350.60 C261.22,350.59 262.22,350.57 263.22,350.56 C264.22,350.54 265.21,350.53 266.21,350.52 C267.21,350.51 268.21,350.49 269.20,350.48 C270.20,350.47 271.20,350.46 272.20,350.45 C273.19,350.44 274.19,350.43 275.19,350.42 C276.19,350.42 277.18,350.41 278.18,350.40 C279.18,350.39 280.18,350.39 281.17,350.38 C282.17,350.38 283.17,350.37 284.17,350.37 C285.16,350.36 286.16,350.36 287.16,350.35 C288.15,350.35 289.15,350.35 290.15,350.35 C291.15,350.34 292.14,350.34 293.14,350.34 C294.14,350.34 295.14,350.34 296.13,350.34 C297.13,350.33 298.13,350.33 299.13,350.33 C300.12,350.33 301.12,350.33 302.12,350.33 C303.12,350.33 304.11,350.34 305.11,350.34 C306.11,350.34 307.11,350.34 308.10,350.34 C309.10,350.34 310.10,350.34 311.09,350.34 C312.09,350.35 313.09,350.35 314.09,350.35 C315.08,350.35 316.08,350.35 317.08,350.36 C318.08,350.36 319.07,350.36 320.07,350.36 C321.07,350.36 322.07,350.37 323.06,350.37 C324.06,350.37 325.06,350.37 326.06,350.37 C327.05,350.38 328.05,350.38 329.05,350.38 C330.05,350.38 331.04,350.38 332.04,350.38 C333.04,350.39 334.04,350.39 335.03,350.39 C336.03,350.39 337.03,350.39 338.02,350.39 C339.02,350.39 340.02,350.39 341.02,350.39 C342.01,350.39 343.01,350.39 344.01,350.39 C345.01,350.39 346.00,350.39 347.00,350.39 C348.00,350.39 349.00,350.38 349.99,350.38 C350.99,350.38 351.99,350.38 352.99,350.37 C353.98,350.37 354.98,350.37 355.98,350.36 C356.98,350.36 357.97,350.35 358.97,350.35 C359.97,350.34 360.96,350.34 361.96,350.33 C362.96,350.33 363.96,350.32 364.95,350.31 C365.95,350.30 366.95,350.29 367.95,350.29 C368.94,350.28 369.94,350.27 370.94,350.26 C371.94,350.24 372.93,350.23 373.93,350.22 C374.93,350.21 375.93,350.20 376.92,350.18 C377.92,350.17 378.92,350.15 379.92,350.14 C380.91,350.12 381.91,350.11 382.91,350.09 C383.91,350.07 385.40,350.04 385.90,350.03" stroke="#ff0000"/>
</g>
<text x="60.30" y="553.00" text-anchor="middle" stroke="#000">10<tspan dy="-8" font-size="13.6">1</tspan></text>
<text x="169.02" y="553.00" text-anchor="middle" stroke="#000">10<tspan dy="-8" font-size="13.6">2</tspan></text>
<text x="277.73" y="553.00" text-anchor="middle" stroke="#000">10<tspan dy="-8" font-size="13.6">3</tspan></text>
<text x="386.45" y="553.00" text-anchor="middle" stroke="#000">10<tspan dy="-8" font-size="13.6">4</tspan></text>
<text x="223.02" y="575.00" text-anchor="middle" stroke="#000">E [GeV]</text>
<text x="49.90" y="356" text-anchor="end" stroke="#000">1</text>
<text transform="translate(18.8,425.6) rotate(-90)" text-anchor="middle" stroke="#000">D/D<tspan dy="4.8" font-size="12.8">0</tspan></text>
<clipPath id="cd"><rect x="475.00" y="322.75" width="326.05" height="206.30"/></clipPath>
<path d="M507.48,528.95 v-3.70 M507.48,322.75 v3.70 M526.62,528.95 v-3.70 M526.62,322.75 v3.70 M540.20,528.95 v-3.70 M540.20,322.75 v3.70 M550.74,528.95 v-3.70 M550.74,322.75 v3.70 M559.35,528.95 v-3.70 M559.35,322.75 v3.70 M566.63,528.95 v-3.70 M566.63,322.75 v3.70 M572.93,528.95 v-3.70 M572.93,322.75 v3.70 M578.49,528.95 v-3.70 M578.49,322.75 v3.70 M583.47,528.95 v-7.50 M583.47,322.75 v7.50 M616.19,528.95 v-3.70 M616.19,322.75 v3.70 M635.34,528.95 v-3.70 M635.34,322.75 v3.70 M648.92,528.95 v-3.70 M648.92,322.75 v3.70 M659.46,528.95 v-3.70 M659.46,322.75 v3.70 M668.06,528.95 v-3.70 M668.06,322.75 v3.70 M675.34,528.95 v-3.70 M675.34,322.75 v3.70 M681.65,528.95 v-3.70 M681.65,322.75 v3.70 M687.21,528.95 v-3.70 M687.21,322.75 v3.70 M692.18,528.95 v-7.50 M692.18,322.75 v7.50 M724.91,528.95 v-3.70 M724.91,322.75 v3.70 M744.05,528.95 v-3.70 M744.05,322.75 v3.70 M757.64,528.95 v-3.70 M757.64,322.75 v3.70 M768.17,528.95 v-3.70 M768.17,322.75 v3.70 M776.78,528.95 v-3.70 M776.78,322.75 v3.70 M784.06,528.95 v-3.70 M784.06,322.75 v3.70 M790.36,528.95 v-3.70 M790.36,322.75 v3.70 M795.93,528.95 v-3.70 M795.93,322.75 v3.70 M474.75,486.17 h3.70 M800.90,486.17 h-3.70 M474.75,452.98 h3.70 M800.90,452.98 h-3.70 M474.75,425.87 h3.70 M800.90,425.87 h-3.70 M474.75,402.94 h3.70 M800.90,402.94 h-3.70 M474.75,383.09 h3.70 M800.90,383.09 h-3.70 M474.75,365.57 h3.70 M800.90,365.57 h-3.70 M474.75,349.90 h7.50 M800.90,349.90 h-7.50" stroke="#000" stroke-width="1" fill="none"/>
<rect x="474.75" y="322.75" width="326.15" height="206.20" fill="none" stroke="#000" stroke-width="1.5"/>
<g clip-path="url(#cd)" fill="none" stroke-width="2.0" stroke-linejoin="round">
<path d="M474.50,349.91 C475.00,349.90 476.50,349.90 477.50,349.90 C478.49,349.90 479.49,349.90 480.49,349.90 C481.49,349.90 482.49,349.90 483.49,349.90 C484.48,349.90 485.48,349.90 486.48,349.90 C487.48,349.90 488.48,349.90 489.48,349.90 C490.48,349.90 491.47,349.90 492.47,349.90 C493.47,349.90 494.47,349.90 495.47,349.90 C496.47,349.90 497.46,349.90 498.46,349.90 C499.46,349.90 500.46,349.90 501.46,349.90 C502.46,349.90 503.46,349.90 504.45,349.90 C505.45,349.90 506.45,349.91 507.45,349.91 C508.45,349.91 509.45,349.91 510.44,349.91 C511.44,349.91 512.44,349.91 513.44,349.91 C514.44,349.91 515.44,349.91 516.44,349.91 C517.43,349.91 518.43,349.90 519.43,349.90 C520.43,349.90 521.43,349.90 522.43,349.90 C523.43,349.90 524.42,349.90 525.42,349.90 C526.42,349.90 527.42,349.90 528.42,349.90 C529.42,349.90 530.41,349.90 531.41,349.90 C532.41,349.90 533.41,349.90 534.41,349.90 C535.41,349.90 536.41,349.89 537.40,349.90 C538.40,349.91 539.40,349.92 540.40,349.94 C541.40,349.96 542.40,349.98 543.39,350.01 C544.39,350.04 545.39,350.08 546.39,350.13 C547.39,350.18 548.39,350.23 549.39,350.31 C550.38,350.38 551.38,350.46 552.38,350.57 C553.38,350.67 554.38,350.78 555.38,350.92 C556.37,351.06 557.37,351.21 558.37,351.39 C559.37,351.56 560.37,351.76 561.37,351.98 C562.37,352.20 563.36,352.44 564.36,352.72 C565.36,352.99 566.36,353.29 567.36,353.61 C568.36,353.94 569.35,354.30 570.35,354.69 C571.35,355.08 572.35,355.50 573.35,355.95 C574.35,356.41 575.35,356.90 576.34,357.44 C577.34,357.98 578.34,358.55 579.34,359.17 C580.34,359.79 581.34,360.46 582.33,361.17 C583.33,361.89 584.33,362.65 585.33,363.47 C586.33,364.29 587.33,365.16 588.33,366.09 C589.32,367.02 590.32,368.00 591.32,369.05 C592.32,370.10 593.32,371.21 594.32,372.39 C595.31,373.57 596.31,374.81 597.31,376.12 C598.31,377.44 599.31,378.82 600.31,380.28 C601.31,381.74 602.30,383.28 603.30,384.88 C604.30,386.48 605.30,388.15 606.30,389.88 C607.30,391.60 608.30,393.40 609.29,395.24 C610.29,397.09 611.29,398.99 612.29,400.94 C613.29,402.88 614.29,404.89 615.28,406.92 C616.28,408.96 617.28,411.04 618.28,413.16 C619.28,415.27 620.28,417.43 621.28,419.61 C622.27,421.79 623.27,424.00 624.27,426.23 C625.27,428.45 626.27,430.70 627.27,432.95 C628.26,435.20 629.26,437.47 630.26,439.73 C631.26,441.98 632.26,444.25 633.26,446.49 C634.26,448.73 635.25,450.97 636.25,453.18 C637.25,455.39 638.25,457.59 639.25,459.74 C640.25,461.89 641.24,464.02 642.24,466.08 C643.24,468.14 644.24,470.17 645.24,472.11 C646.24,474.05 647.24,475.94 648.23,477.74 C649.23,479.54 650.23,481.27 651.23,482.89 C652.23,484.50 653.23,486.04 654.22,487.46 C655.22,488.87 656.22,490.18 657.22,491.36 C658.22,492.54 659.22,493.60 660.22,494.51 C661.21,495.42 662.21,496.21 663.21,496.82 C664.21,497.44 665.21,497.91 666.21,498.21 C667.20,498.52 668.20,498.66 669.20,498.66 C670.20,498.65 671.20,498.49 672.20,498.17 C673.20,497.86 674.19,497.39 675.19,496.78 C676.19,496.16 677.19,495.40 678.19,494.49 C679.19,493.57 680.19,492.51 681.18,491.31 C682.18,490.11 683.18,488.76 684.18,487.27 C685.18,485.78 686.18,484.13 687.17,482.37 C688.17,480.61 689.17,478.70 690.17,476.71 C691.17,474.71 692.17,472.59 693.17,470.42 C694.16,468.25 695.16,465.97 696.16,463.68 C697.16,461.38 698.16,459.01 699.16,456.65 C700.15,454.28 701.15,451.87 702.15,449.48 C703.15,447.10 704.15,444.70 705.15,442.35 C706.15,440.01 707.14,437.68 708.14,435.41 C709.14,433.13 710.14,430.90 711.14,428.70 C712.14,426.51 713.13,424.36 714.13,422.25 C715.13,420.14 716.13,418.08 717.13,416.05 C718.13,414.03 719.13,412.05 720.12,410.12 C721.12,408.18 722.12,406.29 723.12,404.44 C724.12,402.60 725.12,400.79 726.11,399.04 C727.11,397.28 728.11,395.57 729.11,393.91 C730.11,392.25 731.11,390.63 732.11,389.06 C733.10,387.49 734.10,385.97 735.10,384.50 C736.10,383.02 737.10,381.60 738.10,380.22 C739.09,378.85 740.09,377.52 741.09,376.25 C742.09,374.97 743.09,373.74 744.09,372.57 C745.09,371.39 746.08,370.27 747.08,369.19 C748.08,368.12 749.08,367.10 750.08,366.13 C751.08,365.16 752.07,364.25 753.07,363.39 C754.07,362.52 755.07,361.71 756.07,360.96 C757.07,360.20 758.07,359.50 759.06,358.85 C760.06,358.21 761.06,357.61 762.06,357.06 C763.06,356.51 764.06,356.02 765.06,355.56 C766.05,355.11 767.05,354.71 768.05,354.35 C769.05,353.99 770.05,353.67 771.05,353.40 C772.04,353.12 773.04,352.89 774.04,352.70 C775.04,352.51 776.04,352.36 777.04,352.24 C778.04,352.13 779.03,352.05 780.03,352.01 C781.03,351.96 782.03,351.95 783.03,351.98 C784.03,352.00 785.02,352.06 786.02,352.14 C787.02,352.23 788.02,352.35 789.02,352.49 C790.02,352.63 791.02,352.80 792.01,353.00 C793.01,353.19 794.01,353.42 795.01,353.66 C796.01,353.90 797.01,354.17 798.00,354.45 C799.00,354.74 800.50,355.22 801.00,355.37" stroke="#0000ff"/>
<path d="M474.50,349.90 C475.00,349.90 476.50,349.90 477.50,349.90 C478.49,349.90 479.49,349.90 480.49,349.90 C481.49,349.90 482.49,349.90 483.49,349.90 C484.48,349.90 485.48,349.90 486.48,349.90 C487.48,349.90 488.48,349.90 489.48,349.90 C490.48,349.90 491.47,349.90 492.47,349.90 C493.47,349.90 494.47,349.90 495.47,349.90 C496.47,349.90 497.46,349.90 498.46,349.91 C499.46,349.91 500.46,349.92 501.46,349.93 C502.46,349.93 503.46,349.94 504.45,349.96 C505.45,349.99 506.45,350.01 507.45,350.05 C508.45,350.09 509.45,350.14 510.44,350.21 C511.44,350.28 512.44,350.37 513.44,350.48 C514.44,350.59 515.44,350.71 516.44,350.87 C517.43,351.03 518.43,351.20 519.43,351.42 C520.43,351.63 521.43,351.87 522.43,352.15 C523.43,352.42 524.42,352.73 525.42,353.08 C526.42,353.44 527.42,353.82 528.42,354.26 C529.42,354.69 530.41,355.17 531.41,355.69 C532.41,356.22 533.41,356.79 534.41,357.42 C535.41,358.05 536.41,358.72 537.40,359.46 C538.40,360.20 539.40,360.99 540.40,361.84 C541.40,362.70 542.40,363.61 543.39,364.60 C544.39,365.58 545.39,366.63 546.39,367.75 C547.39,368.87 548.39,370.05 549.39,371.32 C550.38,372.58 551.38,373.93 552.38,375.34 C553.38,376.75 554.38,378.24 555.38,379.79 C556.37,381.34 557.37,382.97 558.37,384.65 C559.37,386.33 560.37,388.08 561.37,389.89 C562.37,391.70 563.36,393.57 564.36,395.49 C565.36,397.41 566.36,399.39 567.36,401.41 C568.36,403.44 569.35,405.52 570.35,407.64 C571.35,409.76 572.35,411.93 573.35,414.14 C574.35,416.35 575.35,418.61 576.34,420.89 C577.34,423.17 578.34,425.50 579.34,427.82 C580.34,430.13 581.34,432.48 582.33,434.79 C583.33,437.09 584.33,439.41 585.33,441.67 C586.33,443.93 587.33,446.17 588.33,448.35 C589.32,450.53 590.32,452.68 591.32,454.76 C592.32,456.85 593.32,458.89 594.32,460.86 C595.31,462.83 596.31,464.74 597.31,466.58 C598.31,468.41 599.31,470.19 600.31,471.87 C601.31,473.55 602.30,475.16 603.30,476.67 C604.30,478.18 605.30,479.61 606.30,480.93 C607.30,482.26 608.30,483.49 609.29,484.60 C610.29,485.71 611.29,486.73 612.29,487.62 C613.29,488.51 614.29,489.29 615.28,489.95 C616.28,490.61 617.28,491.15 618.28,491.57 C619.28,491.99 620.28,492.28 621.28,492.45 C622.27,492.61 623.27,492.65 624.27,492.55 C625.27,492.46 626.27,492.23 627.27,491.88 C628.26,491.54 629.26,491.06 630.26,490.47 C631.26,489.89 632.26,489.18 633.26,488.38 C634.26,487.58 635.25,486.67 636.25,485.66 C637.25,484.66 638.25,483.55 639.25,482.37 C640.25,481.18 641.24,479.90 642.24,478.55 C643.24,477.20 644.24,475.77 645.24,474.27 C646.24,472.77 647.24,471.20 648.23,469.58 C649.23,467.95 650.23,466.26 651.23,464.52 C652.23,462.78 653.23,460.99 654.22,459.16 C655.22,457.33 656.22,455.45 657.22,453.55 C658.22,451.64 659.22,449.70 660.22,447.74 C661.21,445.78 662.21,443.78 663.21,441.79 C664.21,439.79 665.21,437.76 666.21,435.74 C667.20,433.72 668.20,431.69 669.20,429.66 C670.20,427.64 671.20,425.62 672.20,423.62 C673.20,421.62 674.19,419.62 675.19,417.67 C676.19,415.71 677.19,413.77 678.19,411.88 C679.19,409.99 680.19,408.12 681.18,406.32 C682.18,404.51 683.18,402.75 684.18,401.05 C685.18,399.35 686.18,397.71 687.17,396.14 C688.17,394.57 689.17,393.07 690.17,391.62 C691.17,390.17 692.17,388.79 693.17,387.47 C694.16,386.14 695.16,384.88 696.16,383.66 C697.16,382.45 698.16,381.29 699.16,380.18 C700.15,379.07 701.15,378.01 702.15,377.00 C703.15,375.98 704.15,375.02 705.15,374.09 C706.15,373.17 707.14,372.29 708.14,371.45 C709.14,370.61 710.14,369.81 711.14,369.05 C712.14,368.29 713.13,367.56 714.13,366.87 C715.13,366.18 716.13,365.53 717.13,364.91 C718.13,364.29 719.13,363.71 720.12,363.16 C721.12,362.60 722.12,362.08 723.12,361.59 C724.12,361.09 725.12,360.63 726.11,360.19 C727.11,359.75 728.11,359.34 729.11,358.96 C730.11,358.57 731.11,358.21 732.11,357.87 C733.10,357.53 734.10,357.22 735.10,356.92 C736.10,356.62 737.10,356.35 738.10,356.09 C739.09,355.83 740.09,355.59 741.09,355.37 C742.09,355.15 743.09,354.94 744.09,354.74 C745.09,354.55 746.08,354.37 747.08,354.20 C748.08,354.03 749.08,353.87 750.08,353.72 C751.08,353.57 752.07,353.44 753.07,353.30 C754.07,353.17 755.07,353.04 756.07,352.92 C757.07,352.80 758.07,352.68 759.06,352.57 C760.06,352.46 761.06,352.36 762.06,352.25 C763.06,352.15 764.06,352.06 765.06,351.97 C766.05,351.88 767.05,351.79 768.05,351.71 C769.05,351.63 770.05,351.56 771.05,351.49 C772.04,351.42 773.04,351.36 774.04,351.31 C775.04,351.25 776.04,351.20 777.04,351.16 C778.04,351.11 779.03,351.07 780.03,351.04 C781.03,351.01 782.03,350.99 783.03,350.97 C784.03,350.95 785.02,350.94 786.02,350.94 C787.02,350.94 788.02,350.94 789.02,350.95 C790.02,350.96 791.02,350.98 792.01,351.00 C793.01,351.03 794.01,351.06 795.01,351.10 C796.01,351.14 797.01,351.19 798.00,351.24 C799.00,351.30 800.50,351.40 801.00,351.43" stroke="#00ff00"/>
<path d="M474.50,455.57 C475.00,456.05 476.50,457.49 477.50,458.44 C478.49,459.39 479.49,460.34 480.49,461.28 C481.49,462.21 482.49,463.14 483.49,464.05 C484.48,464.96 485.48,465.86 486.48,466.74 C487.48,467.62 488.48,468.49 489.48,469.33 C490.48,470.16 491.47,470.99 492.47,471.78 C493.47,472.57 494.47,473.34 495.47,474.07 C496.47,474.81 497.46,475.52 498.46,476.19 C499.46,476.86 500.46,477.50 501.46,478.10 C502.46,478.70 503.46,479.26 504.45,479.78 C505.45,480.30 506.45,480.78 507.45,481.21 C508.45,481.64 509.45,482.03 510.44,482.37 C511.44,482.70 512.44,482.99 513.44,483.22 C514.44,483.45 515.44,483.63 516.44,483.74 C517.43,483.85 518.43,483.90 519.43,483.89 C520.43,483.87 521.43,483.79 522.43,483.63 C523.43,483.48 524.42,483.25 525.42,482.95 C526.42,482.64 527.42,482.26 528.42,481.79 C529.42,481.32 530.41,480.77 531.41,480.14 C532.41,479.50 533.41,478.78 534.41,477.98 C535.41,477.18 536.41,476.30 537.40,475.35 C538.40,474.40 539.40,473.37 540.40,472.28 C541.40,471.19 542.40,470.02 543.39,468.80 C544.39,467.58 545.39,466.28 546.39,464.94 C547.39,463.60 548.39,462.19 549.39,460.74 C550.38,459.29 551.38,457.77 552.38,456.23 C553.38,454.68 554.38,453.08 555.38,451.46 C556.37,449.84 557.37,448.18 558.37,446.50 C559.37,444.83 560.37,443.13 561.37,441.42 C562.37,439.72 563.36,438.00 564.36,436.29 C565.36,434.57 566.36,432.85 567.36,431.15 C568.36,429.45 569.35,427.76 570.35,426.09 C571.35,424.43 572.35,422.78 573.35,421.17 C574.35,419.57 575.35,417.99 576.34,416.45 C577.34,414.92 578.34,413.42 579.34,411.97 C580.34,410.51 581.34,409.09 582.33,407.71 C583.33,406.33 584.33,404.99 585.33,403.68 C586.33,402.37 587.33,401.10 588.33,399.86 C589.32,398.62 590.32,397.42 591.32,396.26 C592.32,395.09 593.32,393.95 594.32,392.85 C595.31,391.75 596.31,390.68 597.31,389.64 C598.31,388.61 599.31,387.60 600.31,386.63 C601.31,385.65 602.30,384.71 603.30,383.79 C604.30,382.88 605.30,381.99 606.30,381.14 C607.30,380.28 608.30,379.45 609.29,378.65 C610.29,377.85 611.29,377.07 612.29,376.32 C613.29,375.57 614.29,374.85 615.28,374.15 C616.28,373.46 617.28,372.79 618.28,372.14 C619.28,371.49 620.28,370.86 621.28,370.26 C622.27,369.66 623.27,369.08 624.27,368.53 C625.27,367.97 626.27,367.44 627.27,366.92 C628.26,366.41 629.26,365.92 630.26,365.44 C631.26,364.97 632.26,364.52 633.26,364.08 C634.26,363.65 635.25,363.23 636.25,362.84 C637.25,362.44 638.25,362.06 639.25,361.69 C640.25,361.33 641.24,360.98 642.24,360.65 C643.24,360.32 644.24,360.00 645.24,359.70 C646.24,359.40 647.24,359.12 648.23,358.84 C649.23,358.57 650.23,358.31 651.23,358.06 C652.23,357.81 653.23,357.58 654.22,357.35 C655.22,357.13 656.22,356.92 657.22,356.72 C658.22,356.51 659.22,356.32 660.22,356.14 C661.21,355.96 662.21,355.78 663.21,355.62 C664.21,355.45 665.21,355.30 666.21,355.15 C667.20,355.00 668.20,354.86 669.20,354.72 C670.20,354.58 671.20,354.45 672.20,354.33 C673.20,354.20 674.19,354.08 675.19,353.96 C676.19,353.85 677.19,353.74 678.19,353.63 C679.19,353.52 680.19,353.41 681.18,353.31 C682.18,353.21 683.18,353.11 684.18,353.01 C685.18,352.92 686.18,352.83 687.17,352.74 C688.17,352.65 689.17,352.57 690.17,352.48 C691.17,352.40 692.17,352.32 693.17,352.25 C694.16,352.17 695.16,352.10 696.16,352.03 C697.16,351.96 698.16,351.89 699.16,351.82 C700.15,351.76 701.15,351.70 702.15,351.64 C703.15,351.58 704.15,351.52 705.15,351.47 C706.15,351.41 707.14,351.36 708.14,351.31 C709.14,351.26 710.14,351.22 711.14,351.17 C712.14,351.13 713.13,351.09 714.13,351.05 C715.13,351.01 716.13,350.97 717.13,350.93 C718.13,350.90 719.13,350.86 720.12,350.83 C721.12,350.80 722.12,350.77 723.12,350.74 C724.12,350.71 725.12,350.69 726.11,350.66 C727.11,350.64 728.11,350.61 729.11,350.59 C730.11,350.57 731.11,350.55 732.11,350.53 C733.10,350.51 734.10,350.50 735.10,350.48 C736.10,350.46 737.10,350.45 738.10,350.44 C739.09,350.42 740.09,350.41 741.09,350.40 C742.09,350.39 743.09,350.38 744.09,350.37 C745.09,350.36 746.08,350.35 747.08,350.34 C748.08,350.34 749.08,350.33 750.08,350.32 C751.08,350.32 752.07,350.31 753.07,350.31 C754.07,350.30 755.07,350.30 756.07,350.30 C757.07,350.29 758.07,350.29 759.06,350.29 C760.06,350.29 761.06,350.28 762.06,350.28 C763.06,350.28 764.06,350.28 765.06,350.27 C766.05,350.27 767.05,350.27 768.05,350.27 C769.05,350.27 770.05,350.27 771.05,350.26 C772.04,350.26 773.04,350.26 774.04,350.26 C775.04,350.25 776.04,350.25 777.04,350.25 C778.04,350.25 779.03,350.24 780.03,350.24 C781.03,350.24 782.03,350.23 783.03,350.23 C784.03,350.22 785.02,350.21 786.02,350.21 C787.02,350.20 788.02,350.20 789.02,350.19 C790.02,350.18 791.02,350.17 792.01,350.16 C793.01,350.15 794.01,350.14 795.01,350.13 C796.01,350.12 797.01,350.10 798.00,350.09 C799.00,350.07 800.50,350.05 801.00,350.04" stroke="#ffa500"/>
</g>
<text x="475.30" y="553.00" text-anchor="middle" stroke="#000">10<tspan dy="-8" font-size="13.6">1</tspan></text>
<text x="584.02" y="553.00" text-anchor="middle" stroke="#000">10<tspan dy="-8" font-size="13.6">2</tspan></text>
<text x="692.73" y="553.00" text-anchor="middle" stroke="#000">10<tspan dy="-8" font-size="13.6">3</tspan></text>
<text x="801.45" y="553.00" text-anchor="middle" stroke="#000">10<tspan dy="-8" font-size="13.6">4</tspan></text>
<text x="638.03" y="575.00" text-anchor="middle" stroke="#000">E [GeV]</text>
<text x="464.90" y="356" text-anchor="end" stroke="#000">1</text>
<text transform="translate(433.8,425.6) rotate(-90)" text-anchor="middle" stroke="#000">D/D<tspan dy="4.8" font-size="12.8">0</tspan></text>
<g id="m1" fill="#fff"><rect x="57.34" y="276.00" width="3.70" height="2.50"/><rect x="62.66" y="276.00" width="3.58" height="2.50"/><rect x="74.95" y="268.00" width="3.28" height="2.50"/><rect x="79.64" y="268.00" width="3.18" height="2.50"/><rect x="162.89" y="276.00" width="3.70" height="2.50"/><rect x="168.21" y="276.00" width="3.58" height="2.50"/><rect x="268.44" y="276.00" width="3.70" height="2.50"/><rect x="273.76" y="276.00" width="3.58" height="2.50"/><rect x="373.99" y="276.00" width="3.70" height="2.50"/><rect x="379.31" y="276.00" width="3.58" height="2.50"/><rect x="34.66" y="54.00" width="3.70" height="2.50"/><rect x="39.98" y="54.00" width="3.58" height="2.50"/><rect x="30.13" y="157.00" width="3.70" height="2.50"/><rect x="35.45" y="157.00" width="3.58" height="2.50"/><rect x="52.26" y="149.00" width="3.28" height="2.50"/><rect x="56.94" y="149.00" width="3.18" height="2.50"/><rect x="30.13" y="260.00" width="3.70" height="2.50"/><rect x="35.45" y="260.00" width="3.58" height="2.50"/><rect x="331.42" y="124.00" width="3.70" height="2.50"/><rect x="336.74" y="124.00" width="3.58" height="2.50"/><rect x="280.92" y="240.00" width="3.70" height="2.50"/><rect x="286.24" y="240.00" width="3.58" height="2.50"/><rect x="472.34" y="276.00" width="3.70" height="2.50"/><rect x="477.66" y="276.00" width="3.58" height="2.50"/><rect x="489.95" y="268.00" width="3.28" height="2.50"/><rect x="494.64" y="268.00" width="3.18" height="2.50"/><rect x="577.89" y="276.00" width="3.70" height="2.50"/><rect x="583.21" y="276.00" width="3.58" height="2.50"/><rect x="683.44" y="276.00" width="3.70" height="2.50"/><rect x="688.76" y="276.00" width="3.58" height="2.50"/><rect x="788.99" y="276.00" width="3.70" height="2.50"/><rect x="794.31" y="276.00" width="3.58" height="2.50"/><rect x="449.06" y="54.00" width="3.70" height="2.50"/><rect x="454.38" y="54.00" width="3.58" height="2.50"/><rect x="449.06" y="95.00" width="3.70" height="2.50"/><rect x="454.38" y="95.00" width="3.58" height="2.50"/><rect x="466.67" y="87.00" width="3.28" height="2.50"/><rect x="471.36" y="87.00" width="3.18" height="2.50"/><rect x="449.06" y="136.00" width="3.70" height="2.50"/><rect x="454.38" y="136.00" width="3.58" height="2.50"/><rect x="444.53" y="177.00" width="3.70" height="2.50"/><rect x="449.85" y="177.00" width="3.58" height="2.50"/><rect x="466.66" y="169.00" width="3.28" height="2.50"/><rect x="471.34" y="169.00" width="3.18" height="2.50"/><rect x="444.53" y="219.00" width="3.70" height="2.50"/><rect x="449.85" y="219.00" width="3.58" height="2.50"/><rect x="444.53" y="260.00" width="3.70" height="2.50"/><rect x="449.85" y="260.00" width="3.58" height="2.50"/><rect x="759.62" y="168.00" width="3.70" height="2.50"/><rect x="764.94" y="168.00" width="3.58" height="2.50"/><rect x="47.84" y="551.00" width="3.70" height="2.50"/><rect x="53.16" y="551.00" width="3.58" height="2.50"/><rect x="65.45" y="543.00" width="3.28" height="2.50"/><rect x="70.14" y="543.00" width="3.18" height="2.50"/><rect x="156.56" y="551.00" width="3.70" height="2.50"/><rect x="161.88" y="551.00" width="3.58" height="2.50"/><rect x="265.27" y="551.00" width="3.70" height="2.50"/><rect x="270.59" y="551.00" width="3.58" height="2.50"/><rect x="373.99" y="551.00" width="3.70" height="2.50"/><rect x="379.31" y="551.00" width="3.58" height="2.50"/><rect x="41.21" y="354.00" width="3.70" height="2.50"/><rect x="46.53" y="354.00" width="3.58" height="2.50"/><rect x="462.84" y="551.00" width="3.70" height="2.50"/><rect x="468.16" y="551.00" width="3.58" height="2.50"/><rect x="480.45" y="543.00" width="3.28" height="2.50"/><rect x="485.14" y="543.00" width="3.18" height="2.50"/><rect x="571.56" y="551.00" width="3.70" height="2.50"/><rect x="576.88" y="551.00" width="3.58" height="2.50"/><rect x="680.27" y="551.00" width="3.70" height="2.50"/><rect x="685.59" y="551.00" width="3.58" height="2.50"/><rect x="788.99" y="551.00" width="3.70" height="2.50"/><rect x="794.31" y="551.00" width="3.58" height="2.50"/><rect x="456.21" y="354.00" width="3.70" height="2.50"/><rect x="461.53" y="354.00" width="3.58" height="2.50"/></g>
</svg>
</body></html>
